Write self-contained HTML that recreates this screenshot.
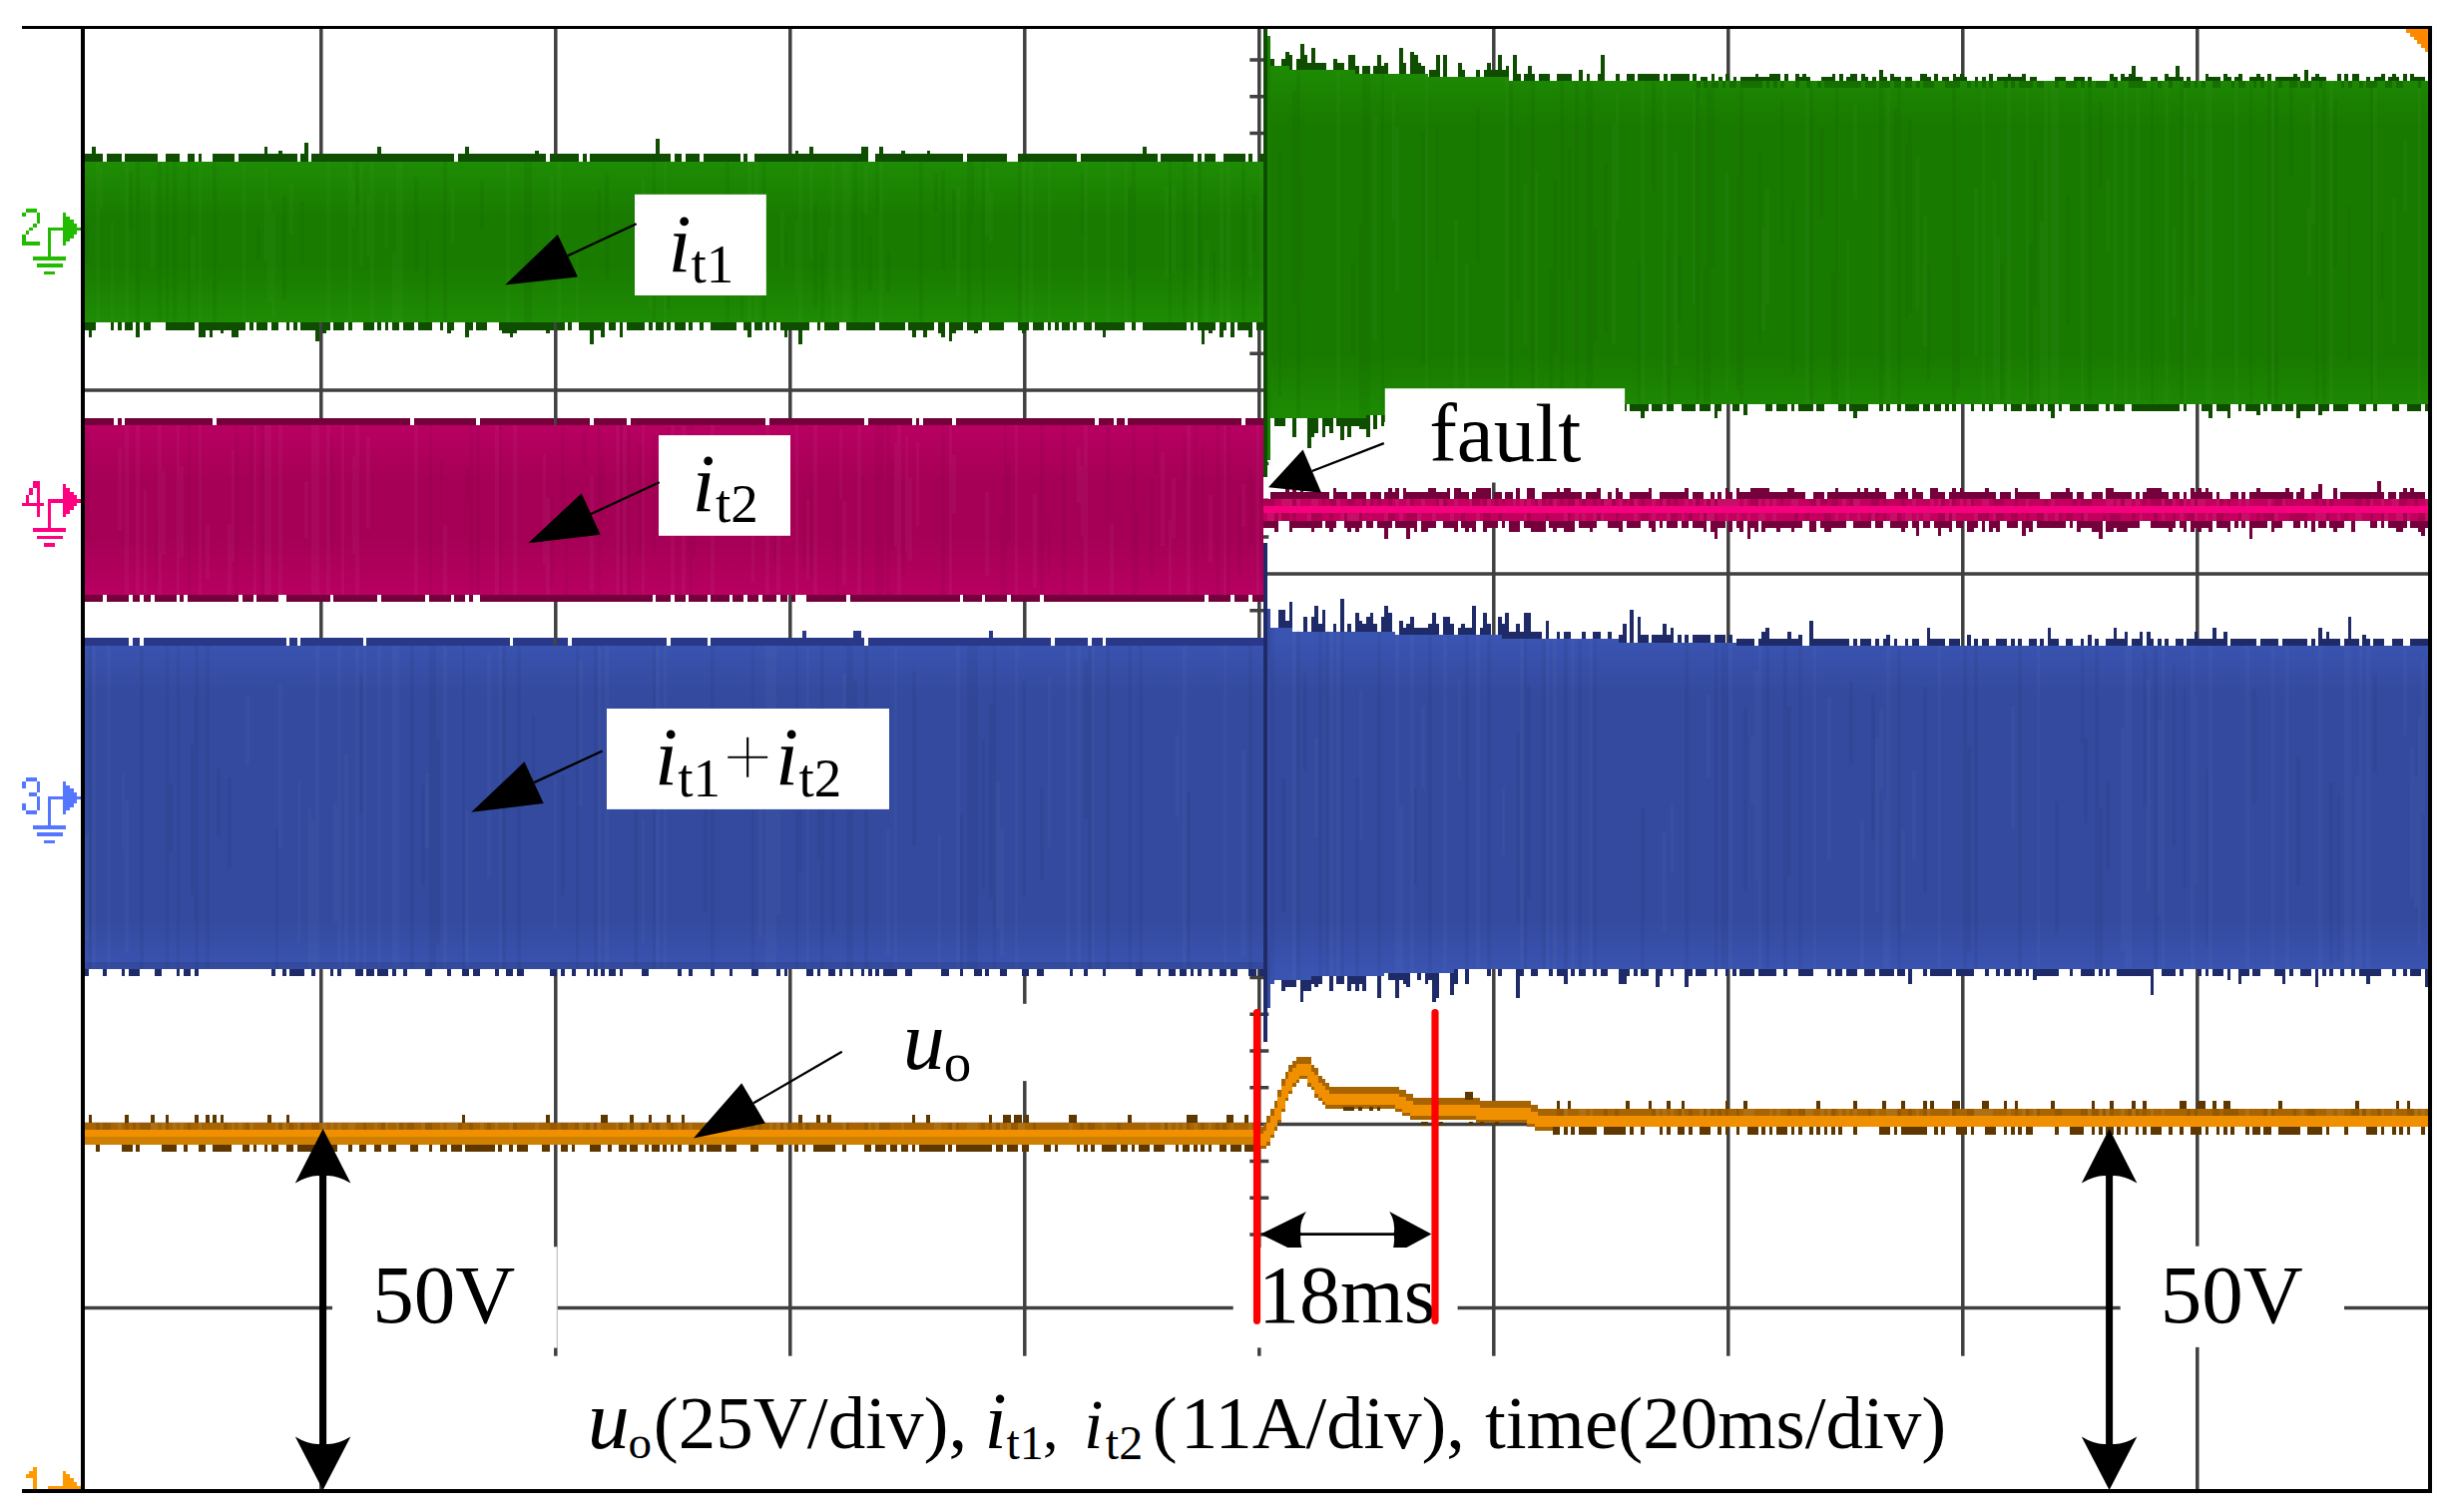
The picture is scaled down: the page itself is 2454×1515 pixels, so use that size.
<!DOCTYPE html>
<html lang="en"><head><meta charset="utf-8"><title>Fault transient waveforms</title>
<style>html,body{margin:0;padding:0;background:#fff}svg{display:block}text{font-family:"Liberation Serif","Times New Roman",serif;fill:#000}.i{font-style:italic}</style></head><body>
<svg width="2454" height="1515" viewBox="0 0 2454 1515">
<rect width="2454" height="1515" fill="#fff"/>
<defs>
<linearGradient id="gG1" gradientUnits="userSpaceOnUse" x1="0" x2="0" y1="161.5" y2="323.3"><stop offset="0" stop-color="#1e8c04"/><stop offset="0.340" stop-color="#197c00"/><stop offset="0.660" stop-color="#197c00"/><stop offset="1" stop-color="#1e8c04"/></linearGradient>
<linearGradient id="gG2" gradientUnits="userSpaceOnUse" x1="0" x2="0" y1="70" y2="412"><stop offset="0" stop-color="#1d8a03"/><stop offset="0.161" stop-color="#197a00"/><stop offset="0.839" stop-color="#197a00"/><stop offset="1" stop-color="#1d8a03"/></linearGradient>
<linearGradient id="gM1" gradientUnits="userSpaceOnUse" x1="0" x2="0" y1="426" y2="595.5"><stop offset="0" stop-color="#b80062"/><stop offset="0.324" stop-color="#a60056"/><stop offset="0.676" stop-color="#a60056"/><stop offset="1" stop-color="#b80062"/></linearGradient>
<linearGradient id="gB1" gradientUnits="userSpaceOnUse" x1="0" x2="0" y1="640" y2="975"><stop offset="0" stop-color="#3a54b2"/><stop offset="0.164" stop-color="#344a9e"/><stop offset="0.836" stop-color="#344a9e"/><stop offset="1" stop-color="#3a54b2"/></linearGradient>
</defs>
<path stroke="#404040" stroke-width="3.5" fill="none" d="M321.8 29V1492M556.8 29V1492M791.8 29V1492M1026.8 29V1492M1261.8 29V1492M1496.8 29V1492M1731.8 29V1492M1966.8 29V1492M2201.8 29V1492M85 207.1H2434M85 391H2434M85 574.9H2434M85 758.8H2434M85 942.7H2434M85 1126.6H2434M85 1310.5H2434"/>
<path stroke="#404040" stroke-width="3.5" fill="none" d="M1252.3 60H1271.3M1252.3 96.8H1271.3M1252.3 133.5H1271.3M1252.3 170.3H1271.3M1252.3 243.9H1271.3M1252.3 280.7H1271.3M1252.3 317.4H1271.3M1252.3 354.2H1271.3M1252.3 427.8H1271.3M1252.3 464.6H1271.3M1252.3 501.3H1271.3M1252.3 538.1H1271.3M1252.3 611.7H1271.3M1252.3 648.5H1271.3M1252.3 685.2H1271.3M1252.3 722H1271.3M1252.3 795.6H1271.3M1252.3 832.4H1271.3M1252.3 869.1H1271.3M1252.3 905.9H1271.3M1252.3 979.5H1271.3M1252.3 1016.3H1271.3M1252.3 1053H1271.3M1252.3 1089.8H1271.3M1252.3 1163.4H1271.3M1252.3 1200.2H1271.3M1252.3 1236.9H1271.3M1252.3 1273.7H1271.3M1252.3 1347.3H1271.3M1252.3 1384.1H1271.3M1252.3 1420.8H1271.3M1252.3 1457.6H1271.3"/>
<g shape-rendering="crispEdges">
<rect x="85" y="161.5" width="1181" height="161.8" fill="url(#gG1)"/>
<path fill="url(#gG2)" d="M1266 66.2V66.2H1269.7H1273.3H1277H1280.7H1284.4H1288H1291.7V69.9H1295.4H1299H1302.7H1306.4H1310.1H1313.7H1317.4H1321.1H1324.7H1328.4H1332.1H1335.8H1339.4H1343.1H1346.8H1350.4H1354.1H1357.8V73.6H1361.5H1365.1H1368.8H1372.5H1376.1H1379.8H1383.5H1387.2H1390.8H1394.5H1398.2H1401.8H1405.5H1409.2H1412.9H1416.5H1420.2H1423.9H1427.5H1431.2V77.2H1434.9H1438.6H1442.2H1445.9H1449.6H1453.2H1456.9H1460.6H1464.3H1467.9H1471.6H1475.3H1478.9H1482.6H1486.3H1490H1493.6H1497.3H1501H1504.6H1508.3H1512V80.9H1515.7H1519.3H1523H1526.7H1530.3H1534H1537.7H1541.4H1545H1548.7H1552.4H1556H1559.7H1563.4H1567.1H1570.7H1574.4H1578.1H1581.7H1585.4H1589.1H1592.8H1596.4H1600.1H1603.8H1607.4H1611.1H1614.8H1618.5H1622.1H1625.8H1629.5H1633.1H1636.8H1640.5H1644.2H1647.8H1651.5H1655.2H1658.8H1662.5H1666.2H1669.9H1673.5H1677.2H1680.9H1684.5H1688.2H1691.9H1695.6H1699.2H1702.9H1706.6H1710.2H1713.9H1717.6H1721.3H1724.9H1728.6H1732.3H1735.9H1739.6H1743.3H1747H1750.6H1754.3H1758H1761.6H1765.3H1769H1772.7H1776.3H1780H1783.7H1787.3H1791H1794.7H1798.4H1802H1805.7H1809.4H1813H1816.7H1820.4H1824.1H1827.7H1831.4H1835.1H1838.7H1842.4H1846.1H1849.8H1853.4H1857.1H1860.8H1864.4H1868.1H1871.8H1875.4H1879.1H1882.8H1886.5H1890.1H1893.8H1897.5H1901.1H1904.8H1908.5H1912.2H1915.8H1919.5H1923.2H1926.8H1930.5H1934.2H1937.9H1941.5H1945.2H1948.9H1952.5H1956.2H1959.9H1963.6H1967.2H1970.9H1974.6H1978.2H1981.9H1985.6H1989.3H1992.9H1996.6H2000.3H2003.9H2007.6H2011.3H2015H2018.6H2022.3H2026H2029.6H2033.3H2037H2040.7H2044.3H2048H2051.7H2055.3H2059H2062.7H2066.4H2070H2073.7H2077.4H2081H2084.7H2088.4H2092.1H2095.7H2099.4H2103.1H2106.7H2110.4H2114.1H2117.8H2121.4H2125.1H2128.8H2132.4H2136.1H2139.8H2143.5H2147.1H2150.8H2154.5H2158.1H2161.8H2165.5H2169.2H2172.8H2176.5H2180.2H2183.8H2187.5H2191.2H2194.9H2198.5H2202.2H2205.9H2209.5H2213.2H2216.9H2220.6H2224.2H2227.9H2231.6H2235.2H2238.9H2242.6H2246.3H2249.9H2253.6H2257.3H2260.9H2264.6H2268.3H2272H2275.6H2279.3H2283H2286.6H2290.3H2294H2297.7H2301.3H2305H2308.7H2312.3H2316H2319.7H2323.4H2327H2330.7H2334.4H2338H2341.7H2345.4H2349.1H2352.7H2356.4H2360.1H2363.7H2367.4H2371.1H2374.8H2378.4H2382.1H2385.8H2389.4H2393.1H2396.8H2400.5H2404.1H2407.8H2411.5H2415.1H2418.8H2422.5H2426.2H2429.8H2433.5V404.6H2429.8H2426.2H2422.5H2418.8H2415.1H2411.5H2407.8H2404.1H2400.5H2396.8H2393.1H2389.4H2385.8H2382.1H2378.4H2374.8H2371.1H2367.4H2363.7H2360.1H2356.4H2352.7H2349.1H2345.4H2341.7H2338H2334.4H2330.7H2327H2323.4H2319.7H2316H2312.3H2308.7H2305H2301.3H2297.7H2294H2290.3H2286.6H2283H2279.3H2275.6H2272H2268.3H2264.6H2260.9H2257.3H2253.6H2249.9H2246.3H2242.6H2238.9H2235.2H2231.6H2227.9H2224.2H2220.6H2216.9H2213.2H2209.5H2205.9H2202.2H2198.5H2194.9H2191.2H2187.5H2183.8H2180.2H2176.5H2172.8H2169.2H2165.5H2161.8H2158.1H2154.5H2150.8H2147.1H2143.5H2139.8H2136.1H2132.4H2128.8H2125.1H2121.4H2117.8H2114.1H2110.4H2106.7H2103.1H2099.4H2095.7H2092.1H2088.4H2084.7H2081H2077.4H2073.7H2070H2066.4H2062.7H2059H2055.3H2051.7H2048H2044.3H2040.7H2037H2033.3H2029.6H2026H2022.3H2018.6H2015H2011.3H2007.6H2003.9H2000.3H1996.6H1992.9H1989.3H1985.6H1981.9H1978.2H1974.6H1970.9H1967.2H1963.6H1959.9H1956.2H1952.5H1948.9H1945.2H1941.5H1937.9H1934.2H1930.5H1926.8H1923.2H1919.5H1915.8H1912.2H1908.5H1904.8H1901.1H1897.5H1893.8H1890.1H1886.5H1882.8H1879.1H1875.4H1871.8H1868.1H1864.4H1860.8H1857.1H1853.4H1849.8H1846.1H1842.4H1838.7H1835.1H1831.4H1827.7H1824.1H1820.4H1816.7H1813H1809.4H1805.7H1802H1798.4H1794.7H1791H1787.3H1783.7H1780H1776.3H1772.7H1769H1765.3H1761.6H1758H1754.3H1750.6H1747H1743.3H1739.6H1735.9H1732.3H1728.6H1724.9H1721.3H1717.6H1713.9H1710.2H1706.6H1702.9H1699.2H1695.6H1691.9H1688.2H1684.5H1680.9H1677.2H1673.5H1669.9H1666.2H1662.5H1658.8H1655.2H1651.5H1647.8H1644.2H1640.5H1636.8H1633.1H1629.5H1625.8H1622.1H1618.5H1614.8H1611.1H1607.4H1603.8H1600.1H1596.4H1592.8H1589.1H1585.4V408.3H1581.7H1578.1H1574.4H1570.7H1567.1H1563.4H1559.7H1556H1552.4H1548.7H1545H1541.4H1537.7H1534H1530.3H1526.7H1523H1519.3H1515.7V411.9H1512H1508.3H1504.6H1501H1497.3H1493.6H1490H1486.3H1482.6H1478.9H1475.3H1471.6H1467.9H1464.3H1460.6H1456.9H1453.2H1449.6V415.6H1445.9H1442.2H1438.6H1434.9H1431.2H1427.5H1423.9H1420.2H1416.5H1412.9H1409.2H1405.5H1401.8H1398.2H1394.5H1390.8H1387.2H1383.5H1379.8H1376.1H1372.5H1368.8V419.3H1365.1H1361.5H1357.8H1354.1H1350.4H1346.8H1343.1H1339.4H1335.8H1332.1H1328.4H1324.7H1321.1H1317.4H1313.7H1310.1H1306.4H1302.7H1299H1295.4H1291.7H1288H1284.4H1280.7H1277H1273.3H1269.7H1266z"/>
<path fill="#fff" opacity="0.025" d="M96 161.5H99.7V323.3H96zM99.7 168.3H103.3V208H99.7zM110.7 222.4H114.3V323.3H110.7zM125.3 161.5H129V323.3H125.3zM151 181.5H154.7V268.9H151zM191.4 235H195V279.7H191.4zM198.7 161.5H202.4V323.3H198.7zM242.7 161.5H246.4V323.3H242.7zM264.7 167.2H268.4V261.7H264.7zM268.4 199.5H272.1V302.3H268.4zM272.1 214.8H275.7V318.7H272.1zM290.4 184H294.1V235.3H290.4zM327.1 161.5H330.7V323.3H327.1zM349.1 161.5H352.7V323.3H349.1zM352.7 181.8H356.4V227.3H352.7zM360.1 164H363.7V267.1H360.1zM367.4 195.2H371.1V257H367.4zM371.1 161.5H374.7V323.3H371.1zM385.8 194.8H389.4V248.5H385.8zM393.1 253.8H396.8V323.3H393.1zM396.8 161.5H404.1V323.3H396.8zM451.8 188.6H455.4V242H451.8zM506.8 161.5H510.5V323.3H506.8zM550.8 176.2H554.5V281.7H550.8zM558.1 161.5H561.8V323.3H558.1zM576.5 255.8H580.1V323.3H576.5zM642.5 179.3H646.2V212H642.5zM649.8 231.9H653.5V309.3H649.8zM664.5 161.5H668.2V323.3H664.5zM737.9 204.4H741.5V242.6H737.9zM748.9 161.5H752.5V323.3H748.9zM756.2 161.5H759.9V323.3H756.2zM781.9 211.6H785.5V271.3H781.9zM796.5 222.1H800.2V295.9H796.5zM800.2 161.5H803.9V323.3H800.2zM811.2 165.3H814.9V260.7H811.2zM829.5 228.3H833.2V295.1H829.5zM833.2 161.5H836.9V323.3H833.2zM844.2 161.5H851.5V323.3H844.2zM866.2 166.4H869.9V215.1H866.2zM880.9 161.5H884.6V323.3H880.9zM957.9 187.1H961.6V297.2H957.9zM987.3 170.2H990.9V234.9H987.3zM990.9 191H994.6V242.2H990.9zM1023.9 161.5H1027.6V323.3H1023.9zM1031.3 161.5H1034.9V323.3H1031.3zM1049.6 161.5H1053.3V323.3H1049.6zM1086.3 161.5H1090V323.3H1086.3zM1108.3 161.5H1112V323.3H1108.3zM1126.6 161.5H1130.3V323.3H1126.6zM1167 186.2H1170.6V278.6H1167zM1174.3 187.6H1178V274.3H1174.3zM1196.3 161.5H1200V323.3H1196.3zM1207.3 241.1H1211V323.3H1207.3zM1222 161.5H1225.7V323.3H1222zM1229.3 161.5H1233V323.3H1229.3zM1251.3 209.2H1255V278.1H1251.3zM1262.3 161.5H1266V323.3H1262.3z"/>
<path fill="#000" opacity="0.04" d="M85 224.7H88.7V262.9H85zM129 172.9H132.7V230.3H129zM136.3 161.5H140V323.3H136.3zM158.4 161.5H162V323.3H158.4zM165.7 161.5H169.4V323.3H165.7zM173 161.5H176.7V323.3H173zM187.7 161.5H191.4V323.3H187.7zM213.4 161.5H217V323.3H213.4zM257.4 226.4H261V260.6H257.4zM283.1 196.3H286.7V300.2H283.1zM301.4 202.2H305.1V264.4H301.4zM356.4 161.5H360.1V206.1H356.4zM415.1 177.7H418.8V272.5H415.1zM426.1 240.3H429.8V323.3H426.1zM444.4 161.5H448.1V323.3H444.4zM481.1 180.6H484.8V229.5H481.1zM525.1 161.5H532.5V323.3H525.1zM598.5 189.9H602.1V241.8H598.5zM605.8 174.2H609.5V280.2H605.8zM653.5 161.5H657.2V323.3H653.5zM668.2 236.5H671.8V309.9H668.2zM726.8 161.5H730.5V323.3H726.8zM741.5 226.5H745.2V322.3H741.5zM763.5 161.5H767.2V323.3H763.5zM785.5 231.6H789.2V265.5H785.5zM814.9 202.5H818.5V308.6H814.9zM822.2 250.7H825.9V323.3H822.2zM855.2 161.5H858.9V323.3H855.2zM862.6 212.7H866.2V264.3H862.6zM869.9 235.2H873.6V291H869.9zM877.2 163.3H880.9V215.9H877.2zM888.2 252.2H891.9V293.2H888.2zM921.2 161.5H924.9V323.3H921.2zM935.9 174.1H939.6V212.2H935.9zM943.2 169.7H946.9V270.1H943.2zM954.2 190H957.9V259.5H954.2zM968.9 161.5H972.6V323.3H968.9zM972.6 161.6H976.3V224.8H972.6zM983.6 161.5H987.3V323.3H983.6zM1020.3 161.5H1023.9V323.3H1020.3zM1082.6 174.4H1086.3V236H1082.6zM1130.3 187.3H1134V278.6H1130.3zM1134 161.5H1137.6V323.3H1134zM1170.6 161.5H1174.3V323.3H1170.6zM1185.3 161.5H1189V323.3H1185.3zM1200 161.5H1203.6V323.3H1200zM1214.7 253.3H1218.3V302.7H1214.7zM1244 161.5H1247.7V323.3H1244zM1255 194.9H1258.7V252.8H1255z"/>
<path fill="#fff" opacity="0.025" d="M1269.7 66.5H1273.3V420.7H1269.7zM1339.4 70.8H1343.1V418.1H1339.4zM1376.1 115.8H1379.8V340.7H1376.1zM1394.5 92.5H1398.2V219.7H1394.5zM1398.2 127.1H1401.8V293.1H1398.2zM1427.5 75.3H1431.2V414.8H1427.5zM1456.9 219.9H1460.6V413.2H1456.9zM1467.9 263.7H1471.6V412.6H1467.9zM1508.3 78.9H1512V410.4H1508.3zM1526.7 183.5H1530.3V345.5H1526.7zM1537.7 171.1H1541.4V394.3H1537.7zM1614.8 122.3H1618.5V344.7H1614.8zM1618.5 92.7H1622.1V221H1618.5zM1644.2 81H1647.8V404H1644.2zM1666.2 81H1669.9V404H1666.2zM1677.2 153.2H1680.9V366.3H1677.2zM1695.6 93.1H1699.2V306.3H1695.6zM1728.6 173.1H1732.3V392.2H1728.6zM1765.3 226.9H1769V331.4H1765.3zM1769 188.1H1772.7V305.3H1769zM1809.4 81H1813V404H1809.4zM1849.8 239.7H1853.4V404H1849.8zM1857.1 104.1H1860.8V199.3H1857.1zM1890.1 81H1893.8V404H1890.1zM1919.5 157.6H1923.2V311.1H1919.5zM1926.8 215.8H1930.5V346.6H1926.8zM1978.2 187.9H1981.9V356H1978.2zM1985.6 81H1989.3V404H1985.6zM1996.6 182H2000.3V396.1H1996.6zM2000.3 237H2003.9V404H2000.3zM2011.3 81H2015V404H2011.3zM2029.6 81H2033.3V404H2029.6zM2044.3 221.5H2048V404H2044.3zM2048 81H2051.7V404H2048zM2055.3 81H2062.7V404H2055.3zM2084.7 81H2088.4V404H2084.7zM2110.4 179.9H2114.1V251.1H2110.4zM2117.8 81H2121.4V404H2117.8zM2128.8 81H2132.4V404H2128.8zM2139.8 81H2143.5V404H2139.8zM2169.2 81H2172.8V404H2169.2zM2176.5 227.5H2180.2V317.8H2176.5zM2187.5 81H2191.2V404H2187.5zM2198.5 112.2H2202.2V328.1H2198.5zM2209.5 81H2216.9V404H2209.5zM2238.9 81H2242.6V404H2238.9zM2275.6 81H2279.3V404H2275.6zM2312.3 207.6H2316V275.8H2312.3zM2316 101.6H2319.7V223.9H2316zM2334.4 81H2338V404H2334.4zM2378.4 81H2382.1V404H2378.4zM2396.8 198.8H2400.5V345.3H2396.8zM2407.8 139.2H2411.5V211.6H2407.8zM2422.5 81H2426.2V404H2422.5z"/>
<path fill="#000" opacity="0.04" d="M1280.7 150.5H1284.4V397.2H1280.7zM1295.4 89.8H1299V306.3H1295.4zM1299 68.6H1302.7V419H1299zM1302.7 176.1H1306.4V279.4H1302.7zM1354.1 264.1H1357.8V355.4H1354.1zM1361.5 225.2H1365.1V417.6H1361.5zM1365.1 72.2H1368.8V417.5H1365.1zM1368.8 72.4H1372.5V417.4H1368.8zM1383.5 73.2H1387.2V417.1H1383.5zM1423.9 131.7H1427.5V364.2H1423.9zM1438.6 126.3H1442.2V261.6H1438.6zM1478.9 108.6H1482.6V262.8H1478.9zM1512 79.1H1515.7V410.2H1512zM1519.3 129.4H1523V300.5H1519.3zM1534 80.1H1537.7V409H1534zM1552.4 269.5H1556V408H1552.4zM1556 178.7H1559.7V354.3H1556zM1563.4 81H1567.1V407.4H1563.4zM1570.7 147.1H1574.4V280.9H1570.7zM1578.1 81H1581.7V406.6H1578.1zM1589.1 81H1592.8V406H1589.1zM1592.8 81H1596.4V405.8H1592.8zM1596.4 229.1H1600.1V341.9H1596.4zM1607.4 162.1H1611.1V334.7H1607.4zM1640.5 262.4H1644.2V404H1640.5zM1655.2 81.6H1658.8V191.3H1655.2zM1669.9 240.2H1673.5V404H1669.9zM1680.9 254.8H1684.5V324.3H1680.9zM1699.2 81H1702.9V404H1699.2zM1706.6 266.6H1710.2V404H1706.6zM1710.2 81H1713.9V404H1710.2zM1713.9 81.7H1717.6V268.4H1713.9zM1739.6 176.6H1743.3V391.1H1739.6zM1743.3 81H1747V404H1743.3zM1761.6 151.1H1765.3V342.1H1761.6zM1783.7 99.7H1787.3V244.8H1783.7zM1794.7 201.2H1798.4V374.7H1794.7zM1813 81H1816.7V404H1813zM1824.1 128.5H1827.7V217.9H1824.1zM1835.1 273.3H1838.7V404H1835.1zM1838.7 81H1842.4V404H1838.7zM1882.8 81H1886.5V404H1882.8zM1897.5 108.4H1901.1V205.9H1897.5zM1901.1 81H1904.8V404H1901.1zM1908.5 144.4H1912.2V318.6H1908.5zM1912.2 120.4H1915.8V313.5H1912.2zM1930.5 265.7H1934.2V380.8H1930.5zM1956.2 81H1959.9V404H1956.2zM1959.9 255.7H1963.6V388.8H1959.9zM2003.9 263.8H2007.6V404H2003.9zM2033.3 245H2037V404H2033.3zM2037 158.5H2040.7V306.7H2037zM2070 193.9H2073.7V327.3H2070zM2092.1 81H2095.7V404H2092.1zM2103.1 101.8H2106.7V187.1H2103.1zM2154.5 81H2158.1V404H2154.5zM2183.8 81H2187.5V404H2183.8zM2194.9 179.1H2198.5V295.2H2194.9zM2253.6 81H2257.3V404H2253.6zM2272 81H2275.6V404H2272zM2279.3 81H2283V404H2279.3zM2294 87.5H2297.7V176.3H2294zM2319.7 81H2323.4V404H2319.7zM2327 81H2330.7V404H2327zM2338 99.6H2341.7V267.2H2338zM2352.7 206H2356.4V361.4H2352.7zM2374.8 81H2378.4V404H2374.8zM2385.8 231.9H2389.4V298.5H2385.8z"/>
<path fill="#0f4d00"  d="M85 154.1H92.3V161.5H85zM92.3 146.8H96V161.5H92.3zM96 154.1H103.3V161.5H96zM107 154.1H121.7V161.5H107zM125.3 154.1H158.4V161.5H125.3zM165.7 154.1H180.4V161.5H165.7zM187.7 154.1H195V161.5H187.7zM198.7 154.1H202.4V161.5H198.7zM213.4 154.1H235.4V161.5H213.4zM239 154.1H264.7V161.5H239zM264.7 146.8H268.4V161.5H264.7zM268.4 154.1H279.4V161.5H268.4zM279.4 150.5H283.1V161.5H279.4zM283.1 154.1H297.7V161.5H283.1zM301.4 154.1H305.1V161.5H301.4zM305.1 143.1H308.7V161.5H305.1zM312.4 154.1H378.4V161.5H312.4zM378.4 146.8H382.1V161.5H378.4zM382.1 154.1H455.4V161.5H382.1zM459.1 154.1H466.4V161.5H459.1zM466.4 146.8H470.1V161.5H466.4zM470.1 154.1H536.1V161.5H470.1zM536.1 150.5H539.8V161.5H536.1zM539.8 154.1H547.1V161.5H539.8zM550.8 154.1H580.1V161.5H550.8zM583.8 154.1H587.5V161.5H583.8zM591.1 154.1H657.2V161.5H591.1zM657.2 139.4H660.8V161.5H657.2zM660.8 154.1H671.8V161.5H660.8zM675.5 154.1H682.8V161.5H675.5zM686.5 154.1H701.2V161.5H686.5zM704.8 154.1H741.5V161.5H704.8zM745.2 154.1H748.9V161.5H745.2zM756.2 154.1H796.5V161.5H756.2zM796.5 150.5H800.2V161.5H796.5zM800.2 154.1H811.2V161.5H800.2zM811.2 146.8H814.9V161.5H811.2zM814.9 154.1H862.6V161.5H814.9zM862.6 146.8H869.9V161.5H862.6zM877.2 154.1H880.9V161.5H877.2zM880.9 146.8H884.6V161.5H880.9zM884.6 154.1H902.9V161.5H884.6zM902.9 150.5H906.6V161.5H902.9zM906.6 154.1H928.6V161.5H906.6zM928.6 150.5H932.2V161.5H928.6zM932.2 154.1H965.2V161.5H932.2zM968.9 154.1H1009.3V161.5H968.9zM1020.3 154.1H1078.9V161.5H1020.3zM1082.6 154.1H1145V161.5H1082.6zM1145 146.8H1148.6V161.5H1145zM1148.6 154.1H1159.6V161.5H1148.6zM1163.3 154.1H1196.3V161.5H1163.3zM1200 154.1H1203.6V161.5H1200zM1207.3 154.1H1218.3V161.5H1207.3zM1225.7 154.1H1247.7V161.5H1225.7zM1251.3 154.1H1255V161.5H1251.3zM1262.3 154.1H1266V161.5H1262.3z"/>
<path fill="#0f4d00"  d="M85 323.3H88.7V330.7H85zM88.7 323.3H92.3V338H88.7zM92.3 323.3H96V330.7H92.3zM110.7 323.3H114.3V330.7H110.7zM118 323.3H121.7V330.7H118zM125.3 323.3H132.7V330.7H125.3zM136.3 323.3H140V338H136.3zM143.7 323.3H151V330.7H143.7zM165.7 323.3H195V330.7H165.7zM198.7 323.3H206V338H198.7zM206 323.3H209.7V330.7H206zM209.7 323.3H213.4V338H209.7zM213.4 323.3H220.7V330.7H213.4zM220.7 323.3H224.4V334.3H220.7zM224.4 323.3H231.7V330.7H224.4zM231.7 323.3H239V338H231.7zM239 323.3H246.4V330.7H239zM250 323.3H253.7V330.7H250zM257.4 323.3H268.4V330.7H257.4zM272.1 323.3H279.4V330.7H272.1zM286.7 323.3H290.4V330.7H286.7zM294.1 323.3H297.7V330.7H294.1zM301.4 323.3H316.1V330.7H301.4zM316.1 323.3H319.7V341.7H316.1zM323.4 323.3H327.1V334.3H323.4zM327.1 323.3H330.7V330.7H327.1zM334.4 323.3H345.4V330.7H334.4zM349.1 323.3H352.7V330.7H349.1zM363.7 323.3H374.7V330.7H363.7zM378.4 323.3H382.1V330.7H378.4zM385.8 323.3H389.4V330.7H385.8zM393.1 323.3H400.4V330.7H393.1zM404.1 323.3H415.1V330.7H404.1zM418.8 323.3H433.4V330.7H418.8zM440.8 323.3H444.4V330.7H440.8zM448.1 323.3H451.8V334.3H448.1zM451.8 323.3H455.4V330.7H451.8zM466.4 323.3H470.1V338H466.4zM470.1 323.3H473.8V330.7H470.1zM477.4 323.3H488.4V330.7H477.4zM499.5 323.3H503.1V330.7H499.5zM503.1 323.3H510.5V334.3H503.1zM510.5 323.3H514.1V338H510.5zM514.1 323.3H517.8V334.3H514.1zM517.8 323.3H547.1V330.7H517.8zM547.1 323.3H550.8V334.3H547.1zM550.8 323.3H554.5V330.7H550.8zM558.1 323.3H565.5V330.7H558.1zM569.1 323.3H572.8V330.7H569.1zM580.1 323.3H591.1V330.7H580.1zM591.1 323.3H594.8V345.4H591.1zM594.8 323.3H602.1V330.7H594.8zM602.1 323.3H605.8V338H602.1zM609.5 323.3H616.8V330.7H609.5zM620.5 323.3H624.2V338H620.5zM627.8 323.3H646.2V330.7H627.8zM649.8 323.3H653.5V330.7H649.8zM657.2 323.3H664.5V330.7H657.2zM668.2 323.3H671.8V330.7H668.2zM675.5 323.3H686.5V330.7H675.5zM690.2 323.3H693.8V330.7H690.2zM701.2 323.3H704.8V330.7H701.2zM712.2 323.3H737.9V330.7H712.2zM745.2 323.3H748.9V330.7H745.2zM748.9 323.3H752.5V338H748.9zM756.2 323.3H763.5V330.7H756.2zM767.2 323.3H770.9V330.7H767.2zM774.5 323.3H778.2V330.7H774.5zM781.9 323.3H785.5V330.7H781.9zM785.5 323.3H789.2V338H785.5zM789.2 323.3H800.2V330.7H789.2zM800.2 323.3H803.9V345.4H800.2zM803.9 323.3H811.2V330.7H803.9zM818.5 323.3H822.2V330.7H818.5zM825.9 323.3H840.5V330.7H825.9zM847.9 323.3H877.2V330.7H847.9zM880.9 323.3H906.6V330.7H880.9zM910.2 323.3H913.9V330.7H910.2zM913.9 323.3H917.6V338H913.9zM917.6 323.3H924.9V330.7H917.6zM924.9 323.3H928.6V338H924.9zM928.6 323.3H935.9V330.7H928.6zM939.6 323.3H943.2V334.3H939.6zM943.2 323.3H946.9V338H943.2zM950.6 323.3H954.2V341.7H950.6zM954.2 323.3H957.9V334.3H954.2zM957.9 323.3H965.2V330.7H957.9zM968.9 323.3H976.3V330.7H968.9zM976.3 323.3H979.9V334.3H976.3zM979.9 323.3H983.6V330.7H979.9zM990.9 323.3H1005.6V330.7H990.9zM1020.3 323.3H1023.9V330.7H1020.3zM1023.9 323.3H1027.6V334.3H1023.9zM1027.6 323.3H1031.3V330.7H1027.6zM1034.9 323.3H1045.9V330.7H1034.9zM1049.6 323.3H1053.3V330.7H1049.6zM1056.9 323.3H1060.6V330.7H1056.9zM1064.3 323.3H1071.6V330.7H1064.3zM1075.3 323.3H1078.9V330.7H1075.3zM1086.3 323.3H1093.6V330.7H1086.3zM1097.3 323.3H1104.6V330.7H1097.3zM1104.6 323.3H1108.3V338H1104.6zM1108.3 323.3H1126.6V330.7H1108.3zM1134 323.3H1137.6V330.7H1134zM1145 323.3H1189V330.7H1145zM1192.6 323.3H1196.3V330.7H1192.6zM1200 323.3H1203.6V330.7H1200zM1203.6 323.3H1207.3V345.4H1203.6zM1207.3 323.3H1211V330.7H1207.3zM1211 323.3H1214.7V334.3H1211zM1214.7 323.3H1218.3V330.7H1214.7zM1222 323.3H1225.7V338H1222zM1225.7 323.3H1229.3V330.7H1225.7zM1233 323.3H1236.7V338H1233zM1240.3 323.3H1251.3V330.7H1240.3zM1251.3 323.3H1255V338H1251.3zM1258.7 323.3H1266V330.7H1258.7z"/>
<path fill="#0f4d00"  d="M1269.7 51.5H1273.4V66.2H1269.7zM1273.4 58.8H1277V66.2H1273.4zM1284.4 58.8H1288.1V66.2H1284.4zM1288.1 51.5H1291.7V66.2H1288.1zM1291.7 55.2H1295.4V69.9H1291.7zM1299.1 58.8H1302.8V69.9H1299.1zM1302.8 44.1H1306.5V69.9H1302.8zM1306.5 55.2H1310.1V69.9H1306.5zM1310.1 62.5H1313.8V69.9H1310.1zM1313.8 47.8H1317.5V69.9H1313.8zM1317.5 62.5H1328.5V69.9H1317.5zM1335.9 58.8H1339.6V69.9H1335.9zM1339.6 62.5H1346.9V69.9H1339.6zM1350.6 55.2H1357.9V69.9H1350.6zM1357.9 66.2H1361.6V73.6H1357.9zM1365.3 66.2H1372.7V73.6H1365.3zM1376.3 66.2H1380V73.6H1376.3zM1380 55.2H1383.7V73.6H1380zM1383.7 66.2H1387.4V73.6H1383.7zM1387.4 62.5H1391.1V73.6H1387.4zM1402.1 47.8H1405.8V73.6H1402.1zM1405.8 62.5H1409.4V73.6H1405.8zM1413.1 51.5H1416.8V73.6H1413.1zM1416.8 55.2H1420.5V73.6H1416.8zM1420.5 62.5H1424.2V73.6H1420.5zM1424.2 66.2H1427.8V73.6H1424.2zM1431.5 69.9H1438.9V77.2H1431.5zM1438.9 55.2H1442.5V77.2H1438.9zM1446.2 55.2H1449.9V77.2H1446.2zM1460.9 62.5H1464.6V77.2H1460.9zM1464.6 69.9H1468.3V77.2H1464.6zM1479.3 69.9H1483V77.2H1479.3zM1486.7 69.9H1490.4V77.2H1486.7zM1490.4 62.5H1494V77.2H1490.4zM1494 69.9H1501.4V77.2H1494zM1501.4 55.2H1505.1V77.2H1501.4zM1505.1 69.9H1508.7V77.2H1505.1zM1508.7 66.2H1512.4V77.2H1508.7zM1516.1 55.2H1519.8V80.9H1516.1zM1519.8 73.6H1523.5V80.9H1519.8zM1527.1 73.6H1530.8V80.9H1527.1zM1530.8 66.2H1534.5V80.9H1530.8zM1534.5 73.6H1538.2V80.9H1534.5zM1541.8 73.6H1552.9V80.9H1541.8zM1560.2 73.6H1574.9V80.9H1560.2zM1582.3 69.9H1586V80.9H1582.3zM1589.7 73.6H1593.3V80.9H1589.7zM1600.7 73.6H1604.4V80.9H1600.7zM1604.4 55.2H1608.1V80.9H1604.4zM1619.1 73.6H1622.8V80.9H1619.1zM1630.1 73.6H1637.5V80.9H1630.1zM1641.2 73.6H1663.2V80.9H1641.2zM1666.9 73.6H1670.6V80.9H1666.9zM1674.3 73.6H1692.6V80.9H1674.3zM1696.3 73.6H1700V80.9H1696.3z"/>
<path fill="#0f4d00"  d="M1703.7 77.2H1711V80.9H1703.7zM1714.7 73.6H1718.3V80.9H1714.7zM1722 77.2H1725.7V80.9H1722zM1729.3 73.6H1733V80.9H1729.3zM1736.7 77.2H1740.3V80.9H1736.7zM1744 77.2H1758.7V80.9H1744zM1758.7 73.6H1762.3V80.9H1758.7zM1762.3 77.2H1773.3V80.9H1762.3zM1773.3 73.6H1784.4V80.9H1773.3zM1788 73.6H1791.7V80.9H1788zM1799 73.6H1802.7V80.9H1799zM1802.7 77.2H1806.4V80.9H1802.7zM1806.4 73.6H1810V80.9H1806.4zM1810 77.2H1813.7V80.9H1810zM1824.7 77.2H1835.7V80.9H1824.7zM1835.7 73.6H1839.4V80.9H1835.7zM1843 73.6H1846.7V80.9H1843zM1850.4 77.2H1854V80.9H1850.4zM1854 73.6H1861.4V80.9H1854zM1865 73.6H1868.7V80.9H1865zM1868.7 77.2H1872.4V80.9H1868.7zM1876 77.2H1879.7V80.9H1876zM1883.4 69.9H1887V80.9H1883.4zM1887 77.2H1890.7V80.9H1887zM1894.4 73.6H1898V80.9H1894.4zM1898 77.2H1905.4V80.9H1898zM1909 77.2H1916.4V80.9H1909zM1923.7 73.6H1931.1V80.9H1923.7zM1931.1 77.2H1934.7V80.9H1931.1zM1938.4 73.6H1942.1V80.9H1938.4zM1945.7 77.2H1953.1V80.9H1945.7zM1956.7 73.6H1960.4V80.9H1956.7zM1960.4 77.2H1964.1V80.9H1960.4zM1964.1 73.6H1967.7V80.9H1964.1zM1967.7 77.2H1971.4V80.9H1967.7zM1978.7 77.2H1982.4V80.9H1978.7zM1986.1 77.2H1989.7V80.9H1986.1zM1993.4 73.6H1997.1V80.9H1993.4zM2000.7 77.2H2011.7V80.9H2000.7zM2011.7 73.6H2015.4V80.9H2011.7zM2015.4 77.2H2026.4V80.9H2015.4zM2026.4 73.6H2030.1V80.9H2026.4zM2033.7 77.2H2041.1V80.9H2033.7zM2059.4 77.2H2070.4V80.9H2059.4zM2077.8 77.2H2088.8V80.9H2077.8zM2092.4 77.2H2096.1V80.9H2092.4zM2114.4 73.6H2118.1V80.9H2114.4zM2118.1 77.2H2121.8V80.9H2118.1zM2125.4 73.6H2129.1V80.9H2125.4zM2129.1 77.2H2132.8V80.9H2129.1zM2132.8 73.6H2136.4V80.9H2132.8zM2136.4 66.2H2140.1V80.9H2136.4zM2140.1 77.2H2147.4V80.9H2140.1zM2154.8 77.2H2162.1V80.9H2154.8zM2169.4 73.6H2173.1V80.9H2169.4zM2173.1 77.2H2180.4V80.9H2173.1zM2180.4 66.2H2184.1V80.9H2180.4zM2184.1 77.2H2187.8V80.9H2184.1zM2191.4 77.2H2195.1V80.9H2191.4zM2209.8 73.6H2213.4V80.9H2209.8zM2213.4 77.2H2224.5V80.9H2213.4zM2228.1 73.6H2231.8V80.9H2228.1zM2231.8 77.2H2235.5V80.9H2231.8zM2239.1 77.2H2242.8V80.9H2239.1zM2242.8 73.6H2246.5V80.9H2242.8zM2253.8 77.2H2261.1V80.9H2253.8zM2261.1 73.6H2264.8V80.9H2261.1zM2264.8 77.2H2268.5V80.9H2264.8zM2272.1 73.6H2275.8V80.9H2272.1zM2279.5 77.2H2297.8V80.9H2279.5zM2297.8 73.6H2301.5V80.9H2297.8zM2301.5 77.2H2305.1V80.9H2301.5zM2308.8 69.9H2312.5V80.9H2308.8zM2316.1 77.2H2319.8V80.9H2316.1zM2319.8 73.6H2323.5V80.9H2319.8zM2323.5 77.2H2330.8V80.9H2323.5zM2341.8 73.6H2345.5V80.9H2341.8zM2349.1 73.6H2352.8V80.9H2349.1zM2356.5 73.6H2363.8V80.9H2356.5zM2371.2 77.2H2374.8V80.9H2371.2zM2378.5 77.2H2385.8V80.9H2378.5zM2385.8 73.6H2389.5V80.9H2385.8zM2393.2 77.2H2396.8V80.9H2393.2zM2396.8 73.6H2400.5V80.9H2396.8zM2400.5 77.2H2404.2V80.9H2400.5zM2407.8 73.6H2411.5V80.9H2407.8zM2415.2 73.6H2418.8V80.9H2415.2zM2418.8 77.2H2429.8V80.9H2418.8z"/>
<path fill="#157000"  d="M1700 80.9H1703.7V88.3H1700zM1707.3 80.9H1711V88.3H1707.3zM1714.7 80.9H1722V88.3H1714.7zM1725.7 80.9H1729.3V88.3H1725.7zM1733 80.9H1740.3V88.3H1733zM1744 80.9H1766V88.3H1744zM1769.7 80.9H1773.3V88.3H1769.7zM1777 80.9H1780.7V88.3H1777zM1784.4 80.9H1788V88.3H1784.4zM1799 80.9H1802.7V88.3H1799zM1810 80.9H1813.7V88.3H1810zM1821 80.9H1824.7V88.3H1821zM1828.4 80.9H1865V88.3H1828.4zM1868.7 80.9H1879.7V88.3H1868.7zM1883.4 80.9H1894.4V88.3H1883.4zM1898 80.9H1905.4V88.3H1898zM1909 80.9H1916.4V88.3H1909zM1920 80.9H1923.7V88.3H1920zM1927.4 80.9H1938.4V88.3H1927.4zM1949.4 80.9H1964.1V88.3H1949.4zM1971.4 80.9H1975.1V88.3H1971.4zM1978.7 80.9H1982.4V88.3H1978.7zM1986.1 80.9H1989.7V88.3H1986.1zM1993.4 80.9H1997.1V88.3H1993.4zM2008.1 80.9H2011.7V88.3H2008.1zM2015.4 80.9H2019.1V88.3H2015.4zM2022.7 80.9H2037.4V88.3H2022.7zM2041.1 80.9H2048.4V88.3H2041.1zM2059.4 80.9H2063.1V88.3H2059.4zM2070.4 80.9H2081.4V88.3H2070.4zM2085.1 80.9H2088.8V88.3H2085.1zM2092.4 80.9H2096.1V88.3H2092.4zM2099.8 80.9H2110.8V88.3H2099.8zM2118.1 80.9H2121.8V88.3H2118.1zM2132.8 80.9H2151.1V88.3H2132.8zM2162.1 80.9H2165.8V88.3H2162.1zM2173.1 80.9H2176.8V88.3H2173.1zM2187.8 80.9H2195.1V88.3H2187.8zM2198.8 80.9H2202.4V88.3H2198.8zM2206.1 80.9H2209.8V88.3H2206.1zM2217.1 80.9H2224.5V88.3H2217.1zM2235.5 80.9H2239.1V88.3H2235.5zM2242.8 80.9H2250.1V88.3H2242.8zM2257.5 80.9H2261.1V88.3H2257.5zM2264.8 80.9H2268.5V88.3H2264.8zM2283.1 80.9H2286.8V88.3H2283.1zM2294.1 80.9H2301.5V88.3H2294.1zM2305.1 80.9H2316.1V88.3H2305.1zM2323.5 80.9H2327.1V88.3H2323.5zM2345.5 80.9H2349.1V88.3H2345.5zM2352.8 80.9H2356.5V88.3H2352.8zM2363.8 80.9H2367.5V88.3H2363.8zM2371.2 80.9H2382.2V88.3H2371.2zM2389.5 80.9H2396.8V88.3H2389.5zM2400.5 80.9H2407.8V88.3H2400.5zM2422.5 80.9H2426.2V88.3H2422.5z"/>
<path fill="#0f4d00"  d="M1266 419.3H1269.7V426.6H1266zM1277 419.3H1288V426.6H1277zM1295.4 419.3H1299V437.7H1295.4zM1310.1 419.3H1313.7V448.7H1310.1zM1313.7 419.3H1317.4V437.7H1313.7zM1317.4 419.3H1321.1V434H1317.4zM1324.7 419.3H1328.4V437.7H1324.7zM1328.4 419.3H1332.1V426.6H1328.4zM1332.1 419.3H1335.8V434H1332.1zM1339.4 419.3H1343.1V426.6H1339.4zM1343.1 419.3H1346.8V441.4H1343.1zM1346.8 419.3H1350.4V426.6H1346.8zM1350.4 419.3H1354.1V437.7H1350.4zM1354.1 419.3H1361.5V426.6H1354.1zM1361.5 419.3H1368.8V430.3H1361.5zM1368.8 415.6H1372.5V437.7H1368.8zM1376.1 415.6H1379.8V430.3H1376.1zM1383.5 415.6H1387.2V426.6H1383.5zM1387.2 415.6H1390.8V423H1387.2zM1390.8 415.6H1394.5V434H1390.8zM1394.5 415.6H1398.2V423H1394.5zM1401.8 415.6H1405.5V434H1401.8zM1405.5 415.6H1409.2V423H1405.5zM1412.9 415.6H1416.5V423H1412.9zM1420.2 415.6H1423.9V430.3H1420.2zM1423.9 415.6H1427.5V423H1423.9zM1427.5 415.6H1431.2V426.6H1427.5zM1445.9 415.6H1449.6V426.6H1445.9zM1453.2 411.9H1456.9V419.3H1453.2zM1464.3 411.9H1467.9V423H1464.3zM1467.9 411.9H1471.6V419.3H1467.9zM1471.6 411.9H1475.3V423H1471.6zM1478.9 411.9H1486.3V419.3H1478.9zM1486.3 411.9H1490V423H1486.3zM1504.6 411.9H1508.3V419.3H1504.6zM1508.3 411.9H1512V441.4H1508.3zM1519.3 408.3H1526.7V415.6H1519.3zM1541.4 408.3H1545V423H1541.4zM1548.7 408.3H1552.4V415.6H1548.7zM1552.4 408.3H1556V434H1552.4zM1556 408.3H1559.7V426.6H1556zM1563.4 408.3H1570.7V415.6H1563.4zM1574.4 408.3H1578.1V415.6H1574.4zM1578.1 408.3H1581.7V419.3H1578.1zM1581.7 408.3H1585.4V415.6H1581.7zM1585.4 404.6H1600.1V411.9H1585.4zM1600.1 404.6H1603.8V419.3H1600.1zM1603.8 404.6H1618.5V411.9H1603.8zM1622.1 404.6H1629.5V411.9H1622.1zM1633.1 404.6H1644.2V411.9H1633.1zM1644.2 404.6H1647.8V419.3H1644.2zM1647.8 404.6H1651.5V411.9H1647.8zM1655.2 404.6H1666.2V411.9H1655.2zM1669.9 404.6H1677.2V411.9H1669.9zM1684.5 404.6H1699.2V411.9H1684.5zM1702.9 404.6H1713.9V411.9H1702.9zM1717.6 404.6H1721.3V419.3H1717.6zM1721.3 404.6H1724.9V411.9H1721.3zM1735.9 404.6H1743.3V411.9H1735.9zM1747 404.6H1750.6V415.6H1747zM1769 404.6H1776.3V411.9H1769zM1780 404.6H1791V411.9H1780zM1794.7 404.6H1798.4V411.9H1794.7zM1802 404.6H1816.7V411.9H1802zM1820.4 404.6H1827.7V411.9H1820.4zM1842.4 404.6H1849.8V411.9H1842.4zM1853.4 404.6H1857.1V411.9H1853.4zM1857.1 404.6H1860.8V419.3H1857.1zM1860.8 404.6H1871.8V411.9H1860.8zM1882.8 404.6H1886.5V411.9H1882.8zM1890.1 404.6H1893.8V411.9H1890.1zM1901.1 404.6H1904.8V411.9H1901.1zM1908.5 404.6H1923.2V411.9H1908.5zM1926.8 404.6H1934.2V411.9H1926.8zM1937.9 404.6H1945.2V411.9H1937.9zM1948.9 404.6H1952.5V411.9H1948.9zM1956.2 404.6H1959.9V411.9H1956.2zM1974.6 404.6H1978.2V411.9H1974.6zM1985.6 404.6H1989.3V411.9H1985.6zM1992.9 404.6H1996.6V411.9H1992.9zM2007.6 404.6H2011.3V411.9H2007.6zM2015 404.6H2026V411.9H2015zM2029.6 404.6H2040.7V411.9H2029.6zM2044.3 404.6H2048V411.9H2044.3zM2051.7 404.6H2055.3V411.9H2051.7zM2055.3 404.6H2059V419.3H2055.3zM2062.7 404.6H2066.4V411.9H2062.7zM2073.7 404.6H2084.7V411.9H2073.7zM2088.4 404.6H2103.1V411.9H2088.4zM2110.4 404.6H2114.1V411.9H2110.4zM2117.8 404.6H2128.8V411.9H2117.8zM2136.1 404.6H2183.8V411.9H2136.1zM2187.5 404.6H2191.2V411.9H2187.5zM2205.9 404.6H2213.2V411.9H2205.9zM2213.2 404.6H2216.9V419.3H2213.2zM2220.6 404.6H2231.6V411.9H2220.6zM2231.6 404.6H2235.2V419.3H2231.6zM2242.6 404.6H2246.3V411.9H2242.6zM2249.9 404.6H2260.9V411.9H2249.9zM2260.9 404.6H2264.6V415.6H2260.9zM2268.3 404.6H2272V411.9H2268.3zM2275.6 404.6H2286.6V411.9H2275.6zM2290.3 404.6H2297.7V411.9H2290.3zM2301.3 404.6H2305V419.3H2301.3zM2305 404.6H2319.7V411.9H2305zM2323.4 404.6H2327V415.6H2323.4zM2327 404.6H2334.4V411.9H2327zM2338 404.6H2352.7V411.9H2338zM2363.7 404.6H2371.1V411.9H2363.7zM2378.4 404.6H2382.1V411.9H2378.4zM2396.8 404.6H2404.1V411.9H2396.8zM2411.5 404.6H2426.2V411.9H2411.5zM2429.8 404.6H2433.5V411.9H2429.8z"/>
<rect x="1266" y="29" width="3.7" height="449" fill="#0f4d00"/>
<rect x="1269.7" y="36" width="3.7" height="425" fill="#1a7e00"/>
<rect x="85" y="426" width="1181" height="169.5" fill="url(#gM1)"/>
<path fill="#fff" opacity="0.03" d="M118 447.8H121.7V531.3H118zM125.3 426H129V595.5H125.3zM136.3 426H140V595.5H136.3zM143.7 489.5H147.4V595.5H143.7zM158.4 426H162V595.5H158.4zM162 472.4H165.7V555.9H162zM176.7 426H180.4V595.5H176.7zM180.4 466.7H184V557.6H180.4zM198.7 426H202.4V595.5H198.7zM206 526.4H209.7V579.6H206zM228 525.3H231.7V595.5H228zM231.7 450.5H235.4V563.2H231.7zM253.7 426H257.4V595.5H253.7zM264.7 426H272.1V595.5H264.7zM279.4 426H283.1V595.5H279.4zM305.1 481.5H308.7V540H305.1zM312.4 426H319.7V595.5H312.4zM327.1 426H330.7V595.5H327.1zM341.7 426H345.4V595.5H341.7zM352.7 456.8H356.4V555.3H352.7zM356.4 426H360.1V595.5H356.4zM367.4 437.6H371.1V530.1H367.4zM415.1 426H418.8V595.5H415.1zM444.4 525.8H448.1V595.5H444.4zM495.8 426H499.5V595.5H495.8zM514.1 426H517.8V595.5H514.1zM543.5 455.2H547.1V566H543.5zM547.1 498.8H550.8V595.5H547.1zM591.1 476.2H594.8V592.3H591.1zM616.8 426H620.5V595.5H616.8zM624.2 426H627.8V595.5H624.2zM642.5 426H646.2V595.5H642.5zM671.8 426H675.5V595.5H671.8zM682.8 426H686.5V595.5H682.8zM712.2 426H715.8V595.5H712.2zM730.5 474.8H734.2V523.4H730.5zM752.5 501.7H756.2V583.3H752.5zM767.2 426H770.9V595.5H767.2zM778.2 520H781.9V592.9H778.2zM785.5 458.3H789.2V509.6H785.5zM796.5 426H800.2V595.5H796.5zM807.5 501.3H811.2V580.7H807.5zM814.9 426H818.5V595.5H814.9zM840.5 429.7H844.2V500.8H840.5zM844.2 502.2H847.9V585.5H844.2zM858.9 426H862.6V595.5H858.9zM895.6 442.5H899.2V546.6H895.6zM899.2 426H902.9V595.5H899.2zM906.6 438.3H910.2V553.5H906.6zM910.2 479.1H913.9V562.3H910.2zM917.6 443H921.2V526.6H917.6zM950.6 426H954.2V595.5H950.6zM954.2 455.5H957.9V513.8H954.2zM987.3 492.9H990.9V576.5H987.3zM1016.6 426H1020.3V595.5H1016.6zM1034.9 494.9H1038.6V588.9H1034.9zM1078.9 447.9H1082.6V504.3H1078.9zM1082.6 467.3H1086.3V536.9H1082.6zM1086.3 426H1090V595.5H1086.3zM1112 523.9H1115.6V595.5H1112zM1163.3 453H1167V547.1H1163.3zM1170.6 521H1174.3V595.5H1170.6zM1174.3 479.1H1178V540.2H1174.3zM1189 426H1192.6V595.5H1189zM1211 496.4H1214.7V563H1211zM1225.7 426H1229.3V595.5H1225.7zM1244 485.2H1247.7V528.3H1244zM1258.7 426H1262.3V595.5H1258.7z"/>
<path fill="#000" opacity="0.04" d="M85 428.2H88.7V539.1H85zM154.7 518.1H158.4V584.4H154.7zM187.7 426H191.4V595.5H187.7zM235.4 426H239V595.5H235.4zM250 427.9H253.7V525.9H250zM261 426H264.7V595.5H261zM330.7 437.2H334.4V553.9H330.7zM429.8 426H433.4V595.5H429.8zM440.8 461.4H444.4V522.8H440.8zM466.4 467.9H470.1V503.6H466.4zM470.1 426H473.8V595.5H470.1zM477.4 426H481.1V595.5H477.4zM499.5 426H503.1V595.5H499.5zM550.8 495.9H554.5V588.3H550.8zM561.8 428.8H565.5V521.3H561.8zM565.5 524.1H569.1V595.5H565.5zM583.8 432.8H587.5V467.9H583.8zM598.5 426H602.1V595.5H598.5zM602.1 456.8H605.8V525.4H602.1zM620.5 426H624.2V595.5H620.5zM627.8 426H631.5V595.5H627.8zM638.8 445.3H642.5V555.9H638.8zM653.5 435.9H657.2V553.1H653.5zM668.2 427.5H671.8V533.7H668.2zM686.5 479.2H690.2V522.5H686.5zM690.2 426H693.8V595.5H690.2zM693.8 503.8H697.5V556.7H693.8zM697.5 465.1H701.2V529.9H697.5zM719.5 470.6H723.2V514.3H719.5zM734.2 438H737.9V477.7H734.2zM774.5 513.9H778.2V565.8H774.5zM803.9 492.4H807.5V569.9H803.9zM811.2 487.5H814.9V576.6H811.2zM836.9 486.8H840.5V595.5H836.9zM862.6 478H866.2V592.3H862.6zM877.2 426H884.6V595.5H877.2zM888.2 426H891.9V595.5H888.2zM891.9 460.9H895.6V551.5H891.9zM902.9 483.1H906.6V577.4H902.9zM943.2 426H946.9V595.5H943.2zM1001.9 517.3H1005.6V595.5H1001.9zM1005.6 426H1009.3V595.5H1005.6zM1009.3 463.2H1012.9V541.5H1009.3zM1042.3 426H1045.9V595.5H1042.3zM1049.6 523.4H1053.3V574.9H1049.6zM1064.3 426H1067.9V595.5H1064.3zM1108.3 427.8H1112V519H1108.3zM1134 426H1137.6V595.5H1134zM1137.6 509.6H1141.3V594.4H1137.6zM1152.3 480.4H1156V575.8H1152.3zM1156 426.5H1159.6V475.1H1156zM1185.3 434.5H1189V482.2H1185.3zM1196.3 426H1200V595.5H1196.3zM1203.6 445.2H1207.3V557.8H1203.6zM1218.3 426H1222V595.5H1218.3zM1229.3 426H1233V595.5H1229.3zM1240.3 493.5H1244V575.3H1240.3zM1251.3 469.1H1255V548.2H1251.3zM1262.3 491.1H1266V583.5H1262.3z"/>
<path fill="#74003c"  d="M85 418.6H114.3V426H85zM118 418.6H121.7V426H118zM125.3 418.6H213.4V426H125.3zM217 418.6H411.4V426H217zM415.1 418.6H477.4V426H415.1zM481.1 418.6H554.5V426H481.1zM558.1 418.6H591.1V426H558.1zM594.8 418.6H627.8V426H594.8zM631.5 418.6H767.2V426H631.5zM770.9 418.6H866.2V426H770.9zM869.9 418.6H913.9V426H869.9zM917.6 418.6H921.2V426H917.6zM924.9 418.6H954.2V426H924.9zM957.9 418.6H1097.3V426H957.9zM1101 418.6H1115.6V426H1101zM1119.3 418.6H1126.6V426H1119.3zM1130.3 418.6H1244V426H1130.3zM1247.7 418.6H1266V426H1247.7z"/>
<path fill="#74003c"  d="M85 595.5H103.3V602.9H85zM107 595.5H129V602.9H107zM132.7 595.5H140V602.9H132.7zM143.7 595.5H151V602.9H143.7zM154.7 595.5H176.7V602.9H154.7zM180.4 595.5H184V602.9H180.4zM187.7 595.5H239V602.9H187.7zM242.7 595.5H253.7V602.9H242.7zM257.4 595.5H279.4V602.9H257.4zM286.7 595.5H330.7V602.9H286.7zM334.4 595.5H378.4V602.9H334.4zM382.1 595.5H426.1V602.9H382.1zM429.8 595.5H451.8V602.9H429.8zM455.4 595.5H466.4V602.9H455.4zM470.1 595.5H473.8V602.9H470.1zM481.1 595.5H653.5V602.9H481.1zM657.2 595.5H671.8V602.9H657.2zM675.5 595.5H686.5V602.9H675.5zM690.2 595.5H708.5V602.9H690.2zM712.2 595.5H730.5V602.9H712.2zM734.2 595.5H745.2V602.9H734.2zM748.9 595.5H759.9V602.9H748.9zM763.5 595.5H778.2V602.9H763.5zM781.9 595.5H789.2V602.9H781.9zM792.9 595.5H796.5V602.9H792.9zM807.5 595.5H847.9V602.9H807.5zM851.5 595.5H961.6V602.9H851.5zM965.2 595.5H983.6V602.9H965.2zM987.3 595.5H1009.3V602.9H987.3zM1012.9 595.5H1042.3V602.9H1012.9zM1045.9 595.5H1207.3V602.9H1045.9zM1211 595.5H1233V602.9H1211zM1236.7 595.5H1251.3V602.9H1236.7zM1255 595.5H1266V602.9H1255z"/>
<rect x="1266" y="500" width="1167.5" height="22" fill="#c4005f"/>
<rect x="1266" y="506.8" width="1167.5" height="7.6" fill="#f5007e"/>
<path fill="#fff" opacity="0.06" d="M1284.4 500H1295.4V506.8H1284.4zM1299 500H1302.7V506.8H1299zM1313.7 500H1321.1V506.8H1313.7zM1339.4 500H1343.1V506.8H1339.4zM1368.8 500H1372.5V506.8H1368.8zM1398.2 500H1401.8V506.8H1398.2zM1409.2 500H1412.9V506.8H1409.2zM1423.9 500H1427.5V506.8H1423.9zM1442.2 500H1445.9V506.8H1442.2zM1456.9 500H1460.6V506.8H1456.9zM1471.6 500H1475.3V506.8H1471.6zM1490 500H1493.6V506.8H1490zM1515.7 500H1519.3V506.8H1515.7zM1523 500H1526.7V506.8H1523zM1530.3 500H1534V506.8H1530.3zM1541.4 500H1545V506.8H1541.4zM1556 500H1559.7V506.8H1556zM1578.1 500H1581.7V506.8H1578.1zM1607.4 500H1614.8V506.8H1607.4zM1622.1 500H1625.8V506.8H1622.1zM1636.8 500H1640.5V506.8H1636.8zM1655.2 500H1658.8V506.8H1655.2zM1666.2 500H1669.9V506.8H1666.2zM1688.2 500H1691.9V506.8H1688.2zM1695.6 500H1699.2V506.8H1695.6zM1706.6 500H1710.2V506.8H1706.6zM1713.9 500H1717.6V506.8H1713.9zM1721.3 500H1743.3V506.8H1721.3zM1747 500H1750.6V506.8H1747zM1761.6 500H1765.3V506.8H1761.6zM1769 500H1772.7V506.8H1769zM1776.3 500H1780V506.8H1776.3zM1794.7 500H1802V506.8H1794.7zM1820.4 500H1824.1V506.8H1820.4zM1846.1 500H1849.8V506.8H1846.1zM1857.1 500H1864.4V506.8H1857.1zM1915.8 500H1919.5V506.8H1915.8zM1934.2 500H1937.9V506.8H1934.2zM1941.5 500H1945.2V506.8H1941.5zM1952.5 500H1956.2V506.8H1952.5zM1963.6 500H1967.2V506.8H1963.6zM1970.9 500H1974.6V506.8H1970.9zM1985.6 500H1992.9V506.8H1985.6zM2029.6 500H2033.3V506.8H2029.6zM2055.3 500H2059V506.8H2055.3zM2110.4 500H2117.8V506.8H2110.4zM2121.4 500H2125.1V506.8H2121.4zM2128.8 500H2136.1V506.8H2128.8zM2139.8 500H2143.5V506.8H2139.8zM2165.5 500H2169.2V506.8H2165.5zM2176.5 500H2180.2V506.8H2176.5zM2187.5 500H2191.2V506.8H2187.5zM2194.9 500H2198.5V506.8H2194.9zM2202.2 500H2209.5V506.8H2202.2zM2220.6 500H2224.2V506.8H2220.6zM2242.6 500H2246.3V506.8H2242.6zM2249.9 500H2253.6V506.8H2249.9zM2272 500H2275.6V506.8H2272zM2286.6 500H2290.3V506.8H2286.6zM2330.7 500H2334.4V506.8H2330.7zM2374.8 500H2378.4V506.8H2374.8zM2385.8 500H2389.4V506.8H2385.8zM2396.8 500H2404.1V506.8H2396.8zM2429.8 500H2433.5V506.8H2429.8z"/>
<path fill="#000" opacity="0.12" d="M1266 500H1277V506.8H1266zM1295.4 500H1299V506.8H1295.4zM1324.7 500H1328.4V506.8H1324.7zM1332.1 500H1339.4V506.8H1332.1zM1350.4 500H1357.8V506.8H1350.4zM1365.1 500H1368.8V506.8H1365.1zM1372.5 500H1376.1V506.8H1372.5zM1379.8 500H1383.5V506.8H1379.8zM1390.8 500H1394.5V506.8H1390.8zM1412.9 500H1416.5V506.8H1412.9zM1438.6 500H1442.2V506.8H1438.6zM1445.9 500H1449.6V506.8H1445.9zM1475.3 500H1482.6V506.8H1475.3zM1486.3 500H1490V506.8H1486.3zM1497.3 500H1501V506.8H1497.3zM1504.6 500H1508.3V506.8H1504.6zM1537.7 500H1541.4V506.8H1537.7zM1545 500H1548.7V506.8H1545zM1552.4 500H1556V506.8H1552.4zM1563.4 500H1567.1V506.8H1563.4zM1570.7 500H1578.1V506.8H1570.7zM1585.4 500H1589.1V506.8H1585.4zM1596.4 500H1600.1V506.8H1596.4zM1603.8 500H1607.4V506.8H1603.8zM1614.8 500H1618.5V506.8H1614.8zM1625.8 500H1629.5V506.8H1625.8zM1633.1 500H1636.8V506.8H1633.1zM1644.2 500H1647.8V506.8H1644.2zM1662.5 500H1666.2V506.8H1662.5zM1669.9 500H1673.5V506.8H1669.9zM1677.2 500H1680.9V506.8H1677.2zM1699.2 500H1702.9V506.8H1699.2zM1710.2 500H1713.9V506.8H1710.2zM1717.6 500H1721.3V506.8H1717.6zM1754.3 500H1761.6V506.8H1754.3zM1783.7 500H1787.3V506.8H1783.7zM1813 500H1820.4V506.8H1813zM1824.1 500H1831.4V506.8H1824.1zM1835.1 500H1842.4V506.8H1835.1zM1853.4 500H1857.1V506.8H1853.4zM1875.4 500H1882.8V506.8H1875.4zM1886.5 500H1890.1V506.8H1886.5zM1904.8 500H1908.5V506.8H1904.8zM1945.2 500H1948.9V506.8H1945.2zM1956.2 500H1959.9V506.8H1956.2zM1974.6 500H1978.2V506.8H1974.6zM1996.6 500H2007.6V506.8H1996.6zM2018.6 500H2022.3V506.8H2018.6zM2048 500H2051.7V506.8H2048zM2077.4 500H2081V506.8H2077.4zM2084.7 500H2095.7V506.8H2084.7zM2125.1 500H2128.8V506.8H2125.1zM2147.1 500H2150.8V506.8H2147.1zM2154.5 500H2165.5V506.8H2154.5zM2169.2 500H2176.5V506.8H2169.2zM2183.8 500H2187.5V506.8H2183.8zM2198.5 500H2202.2V506.8H2198.5zM2224.2 500H2227.9V506.8H2224.2zM2231.6 500H2235.2V506.8H2231.6zM2279.3 500H2286.6V506.8H2279.3zM2319.7 500H2323.4V506.8H2319.7zM2327 500H2330.7V506.8H2327zM2334.4 500H2338V506.8H2334.4zM2360.1 500H2367.4V506.8H2360.1zM2371.1 500H2374.8V506.8H2371.1zM2404.1 500H2411.5V506.8H2404.1zM2418.8 500H2422.5V506.8H2418.8z"/>
<path fill="#fff" opacity="0.06" d="M1269.7 514.4H1277V522H1269.7zM1280.7 514.4H1284.4V522H1280.7zM1310.1 514.4H1313.7V522H1310.1zM1343.1 514.4H1346.8V522H1343.1zM1350.4 514.4H1361.5V522H1350.4zM1387.2 514.4H1390.8V522H1387.2zM1401.8 514.4H1405.5V522H1401.8zM1420.2 514.4H1423.9V522H1420.2zM1434.9 514.4H1438.6V522H1434.9zM1453.2 514.4H1456.9V522H1453.2zM1478.9 514.4H1482.6V522H1478.9zM1526.7 514.4H1530.3V522H1526.7zM1567.1 514.4H1570.7V522H1567.1zM1578.1 514.4H1581.7V522H1578.1zM1585.4 514.4H1589.1V522H1585.4zM1596.4 514.4H1600.1V522H1596.4zM1603.8 514.4H1607.4V522H1603.8zM1636.8 514.4H1640.5V522H1636.8zM1655.2 514.4H1658.8V522H1655.2zM1669.9 514.4H1673.5V522H1669.9zM1684.5 514.4H1688.2V522H1684.5zM1702.9 514.4H1706.6V522H1702.9zM1710.2 514.4H1717.6V522H1710.2zM1728.6 514.4H1732.3V522H1728.6zM1739.6 514.4H1743.3V522H1739.6zM1750.6 514.4H1754.3V522H1750.6zM1761.6 514.4H1769V522H1761.6zM1776.3 514.4H1780V522H1776.3zM1838.7 514.4H1842.4V522H1838.7zM1849.8 514.4H1853.4V522H1849.8zM1860.8 514.4H1864.4V522H1860.8zM1875.4 514.4H1879.1V522H1875.4zM1893.8 514.4H1901.1V522H1893.8zM1908.5 514.4H1915.8V522H1908.5zM1919.5 514.4H1923.2V522H1919.5zM1926.8 514.4H1934.2V522H1926.8zM1948.9 514.4H1952.5V522H1948.9zM1956.2 514.4H1959.9V522H1956.2zM1978.2 514.4H1981.9V522H1978.2zM1996.6 514.4H2000.3V522H1996.6zM2048 514.4H2051.7V522H2048zM2059 514.4H2062.7V522H2059zM2088.4 514.4H2092.1V522H2088.4zM2143.5 514.4H2147.1V522H2143.5zM2165.5 514.4H2169.2V522H2165.5zM2183.8 514.4H2187.5V522H2183.8zM2198.5 514.4H2202.2V522H2198.5zM2209.5 514.4H2213.2V522H2209.5zM2216.9 514.4H2220.6V522H2216.9zM2246.3 514.4H2253.6V522H2246.3zM2279.3 514.4H2283V522H2279.3zM2319.7 514.4H2330.7V522H2319.7zM2341.7 514.4H2345.4V522H2341.7zM2360.1 514.4H2367.4V522H2360.1zM2389.4 514.4H2393.1V522H2389.4zM2400.5 514.4H2407.8V522H2400.5zM2411.5 514.4H2415.1V522H2411.5zM2429.8 514.4H2433.5V522H2429.8z"/>
<path fill="#000" opacity="0.12" d="M1277 514.4H1280.7V522H1277zM1284.4 514.4H1291.7V522H1284.4zM1295.4 514.4H1299V522H1295.4zM1313.7 514.4H1324.7V522H1313.7zM1332.1 514.4H1335.8V522H1332.1zM1346.8 514.4H1350.4V522H1346.8zM1361.5 514.4H1365.1V522H1361.5zM1390.8 514.4H1398.2V522H1390.8zM1409.2 514.4H1420.2V522H1409.2zM1464.3 514.4H1467.9V522H1464.3zM1486.3 514.4H1493.6V522H1486.3zM1501 514.4H1504.6V522H1501zM1530.3 514.4H1534V522H1530.3zM1548.7 514.4H1552.4V522H1548.7zM1570.7 514.4H1574.4V522H1570.7zM1600.1 514.4H1603.8V522H1600.1zM1618.5 514.4H1622.1V522H1618.5zM1644.2 514.4H1651.5V522H1644.2zM1673.5 514.4H1680.9V522H1673.5zM1691.9 514.4H1695.6V522H1691.9zM1706.6 514.4H1710.2V522H1706.6zM1717.6 514.4H1721.3V522H1717.6zM1798.4 514.4H1802V522H1798.4zM1809.4 514.4H1813V522H1809.4zM1827.7 514.4H1835.1V522H1827.7zM1871.8 514.4H1875.4V522H1871.8zM1879.1 514.4H1882.8V522H1879.1zM1886.5 514.4H1890.1V522H1886.5zM1901.1 514.4H1904.8V522H1901.1zM1941.5 514.4H1948.9V522H1941.5zM1952.5 514.4H1956.2V522H1952.5zM1981.9 514.4H1992.9V522H1981.9zM2000.3 514.4H2007.6V522H2000.3zM2015 514.4H2022.3V522H2015zM2029.6 514.4H2033.3V522H2029.6zM2040.7 514.4H2048V522H2040.7zM2062.7 514.4H2066.4V522H2062.7zM2070 514.4H2077.4V522H2070zM2084.7 514.4H2088.4V522H2084.7zM2106.7 514.4H2110.4V522H2106.7zM2114.1 514.4H2125.1V522H2114.1zM2136.1 514.4H2139.8V522H2136.1zM2158.1 514.4H2161.8V522H2158.1zM2176.5 514.4H2180.2V522H2176.5zM2191.2 514.4H2198.5V522H2191.2zM2220.6 514.4H2227.9V522H2220.6zM2242.6 514.4H2246.3V522H2242.6zM2260.9 514.4H2264.6V522H2260.9zM2268.3 514.4H2279.3V522H2268.3zM2294 514.4H2312.3V522H2294zM2330.7 514.4H2334.4V522H2330.7zM2349.1 514.4H2352.7V522H2349.1zM2374.8 514.4H2378.4V522H2374.8zM2385.8 514.4H2389.4V522H2385.8zM2407.8 514.4H2411.5V522H2407.8zM2422.5 514.4H2429.8V522H2422.5z"/>
<path fill="#74003c"  d="M1273.3 492.6H1288V500H1273.3zM1288 489H1291.7V500H1288zM1291.7 492.6H1295.4V500H1291.7zM1295.4 489H1299V500H1295.4zM1299 492.6H1302.7V500H1299zM1302.7 481.6H1306.4V500H1302.7zM1306.4 492.6H1332.1V500H1306.4zM1335.8 489H1339.4V500H1335.8zM1339.4 492.6H1350.4V500H1339.4zM1354.1 492.6H1368.8V500H1354.1zM1372.5 492.6H1383.5V500H1372.5zM1387.2 492.6H1390.8V500H1387.2zM1390.8 489H1394.5V500H1390.8zM1394.5 492.6H1398.2V500H1394.5zM1398.2 489H1401.8V500H1398.2zM1405.5 489H1409.2V500H1405.5zM1409.2 492.6H1431.2V500H1409.2zM1431.2 489H1438.6V500H1431.2zM1438.6 492.6H1449.6V500H1438.6zM1449.6 489H1453.2V500H1449.6zM1456.9 489H1464.3V500H1456.9zM1464.3 492.6H1471.6V500H1464.3zM1475.3 492.6H1478.9V500H1475.3zM1478.9 489H1493.6V500H1478.9zM1497.3 492.6H1504.6V500H1497.3zM1508.3 492.6H1515.7V500H1508.3zM1519.3 489H1523V500H1519.3zM1530.3 489H1537.7V500H1530.3zM1545 492.6H1559.7V500H1545zM1559.7 489H1563.4V500H1559.7zM1563.4 492.6H1567.1V500H1563.4zM1567.1 489H1574.4V500H1567.1zM1574.4 492.6H1585.4V500H1574.4zM1589.1 492.6H1600.1V500H1589.1zM1600.1 489H1603.8V500H1600.1zM1611.1 492.6H1614.8V500H1611.1zM1618.5 489H1622.1V500H1618.5zM1622.1 492.6H1625.8V500H1622.1zM1633.1 492.6H1651.5V500H1633.1zM1651.5 489H1655.2V500H1651.5zM1662.5 492.6H1688.2V500H1662.5zM1688.2 489H1691.9V500H1688.2zM1695.6 492.6H1706.6V500H1695.6zM1713.9 492.6H1717.6V500H1713.9zM1721.3 492.6H1724.9V500H1721.3zM1728.6 489H1732.3V500H1728.6zM1732.3 492.6H1735.9V500H1732.3zM1739.6 489H1743.3V500H1739.6zM1743.3 492.6H1754.3V500H1743.3zM1754.3 489H1772.7V500H1754.3zM1772.7 492.6H1791V500H1772.7zM1791 489H1798.4V500H1791zM1798.4 492.6H1809.4V500H1798.4zM1816.7 492.6H1827.7V500H1816.7zM1831.4 492.6H1838.7V500H1831.4zM1838.7 489H1842.4V500H1838.7zM1842.4 492.6H1860.8V500H1842.4zM1860.8 489H1864.4V500H1860.8zM1864.4 492.6H1868.1V500H1864.4zM1868.1 489H1871.8V500H1868.1zM1871.8 492.6H1879.1V500H1871.8zM1879.1 489H1882.8V500H1879.1zM1882.8 492.6H1890.1V500H1882.8zM1897.5 492.6H1904.8V500H1897.5zM1904.8 489H1908.5V500H1904.8zM1908.5 492.6H1912.2V500H1908.5zM1915.8 489H1919.5V500H1915.8zM1919.5 492.6H1926.8V500H1919.5zM1934.2 489H1941.5V500H1934.2zM1941.5 492.6H1948.9V500H1941.5zM1952.5 492.6H1956.2V500H1952.5zM1956.2 489H1959.9V500H1956.2zM1959.9 492.6H1963.6V500H1959.9zM1963.6 489H1967.2V500H1963.6zM1967.2 492.6H1989.3V500H1967.2zM1989.3 489H1992.9V500H1989.3zM1992.9 492.6H2000.3V500H1992.9zM2003.9 492.6H2015V500H2003.9zM2018.6 489H2022.3V500H2018.6zM2022.3 492.6H2044.3V500H2022.3zM2055.3 492.6H2070V500H2055.3zM2070 489H2073.7V500H2070zM2073.7 492.6H2077.4V500H2073.7zM2081 492.6H2088.4V500H2081zM2095.7 492.6H2106.7V500H2095.7zM2110.4 489H2117.8V500H2110.4zM2117.8 492.6H2136.1V500H2117.8zM2139.8 492.6H2143.5V500H2139.8zM2147.1 492.6H2150.8V500H2147.1zM2150.8 489H2165.5V500H2150.8zM2165.5 492.6H2172.8V500H2165.5zM2176.5 492.6H2183.8V500H2176.5zM2187.5 492.6H2191.2V500H2187.5zM2194.9 489H2198.5V500H2194.9zM2198.5 492.6H2202.2V500H2198.5zM2202.2 489H2205.9V500H2202.2zM2205.9 492.6H2209.5V500H2205.9zM2209.5 489H2213.2V500H2209.5zM2213.2 492.6H2216.9V500H2213.2zM2220.6 492.6H2224.2V500H2220.6zM2235.2 492.6H2242.6V500H2235.2zM2246.3 492.6H2249.9V500H2246.3zM2253.6 492.6H2260.9V500H2253.6zM2260.9 489H2264.6V500H2260.9zM2264.6 492.6H2290.3V500H2264.6zM2290.3 489H2294V500H2290.3zM2294 492.6H2297.7V500H2294zM2301.3 492.6H2305V500H2301.3zM2305 489H2308.7V500H2305zM2316 492.6H2323.4V500H2316zM2323.4 485.3H2327V500H2323.4zM2338 489H2341.7V500H2338zM2345.4 492.6H2382.1V500H2345.4zM2382.1 481.6H2385.8V500H2382.1zM2385.8 492.6H2389.4V500H2385.8zM2393.1 492.6H2400.5V500H2393.1zM2404.1 492.6H2407.8V500H2404.1zM2407.8 489H2411.5V500H2407.8zM2411.5 492.6H2415.1V500H2411.5zM2415.1 489H2418.8V500H2415.1zM2418.8 492.6H2429.8V500H2418.8z"/>
<path fill="#74003c"  d="M1266 522H1277V529.4H1266zM1277 522H1280.7V533H1277zM1291.7 522H1295.4V533H1291.7zM1295.4 522H1313.7V529.4H1295.4zM1313.7 522H1317.4V533H1313.7zM1317.4 522H1324.7V529.4H1317.4zM1328.4 522H1332.1V529.4H1328.4zM1332.1 522H1335.8V533H1332.1zM1335.8 522H1339.4V529.4H1335.8zM1346.8 522H1350.4V529.4H1346.8zM1350.4 522H1354.1V533H1350.4zM1354.1 522H1357.8V529.4H1354.1zM1357.8 522H1361.5V533H1357.8zM1361.5 522H1365.1V529.4H1361.5zM1368.8 522H1376.1V529.4H1368.8zM1379.8 522H1387.2V529.4H1379.8zM1387.2 522H1390.8V540.4H1387.2zM1390.8 522H1394.5V529.4H1390.8zM1398.2 522H1409.2V529.4H1398.2zM1409.2 522H1412.9V540.4H1409.2zM1412.9 522H1416.5V529.4H1412.9zM1416.5 522H1420.2V533H1416.5zM1423.9 522H1431.2V533H1423.9zM1431.2 522H1438.6V529.4H1431.2zM1445.9 522H1456.9V529.4H1445.9zM1456.9 522H1460.6V533H1456.9zM1464.3 522H1467.9V529.4H1464.3zM1467.9 522H1471.6V533H1467.9zM1471.6 522H1475.3V529.4H1471.6zM1475.3 522H1478.9V533H1475.3zM1486.3 522H1490V533H1486.3zM1490 522H1501V529.4H1490zM1504.6 522H1508.3V529.4H1504.6zM1512 522H1523V533H1512zM1526.7 522H1534V529.4H1526.7zM1534 522H1548.7V533H1534zM1552.4 522H1556V529.4H1552.4zM1556 522H1559.7V533H1556zM1559.7 522H1567.1V529.4H1559.7zM1567.1 522H1578.1V533H1567.1zM1581.7 522H1592.8V529.4H1581.7zM1592.8 522H1596.4V533H1592.8zM1596.4 522H1600.1V529.4H1596.4zM1611.1 522H1622.1V529.4H1611.1zM1622.1 522H1625.8V533H1622.1zM1629.5 522H1644.2V529.4H1629.5zM1651.5 522H1655.2V529.4H1651.5zM1655.2 522H1658.8V533H1655.2zM1662.5 522H1666.2V529.4H1662.5zM1669.9 522H1680.9V529.4H1669.9zM1684.5 522H1691.9V529.4H1684.5zM1695.6 522H1706.6V529.4H1695.6zM1706.6 522H1710.2V533H1706.6zM1713.9 522H1717.6V533H1713.9zM1717.6 522H1721.3V540.4H1717.6zM1721.3 522H1728.6V529.4H1721.3zM1732.3 522H1735.9V533H1732.3zM1739.6 522H1743.3V529.4H1739.6zM1743.3 522H1747V533H1743.3zM1750.6 522H1754.3V540.4H1750.6zM1754.3 522H1758V529.4H1754.3zM1758 522H1761.6V533H1758zM1765.3 522H1769V533H1765.3zM1769 522H1780V529.4H1769zM1780 522H1783.7V533H1780zM1783.7 522H1794.7V529.4H1783.7zM1794.7 522H1798.4V533H1794.7zM1798.4 522H1805.7V529.4H1798.4zM1813 522H1820.4V533H1813zM1824.1 522H1827.7V529.4H1824.1zM1827.7 522H1835.1V533H1827.7zM1835.1 522H1849.8V529.4H1835.1zM1857.1 522H1875.4V529.4H1857.1zM1879.1 522H1886.5V529.4H1879.1zM1893.8 522H1904.8V529.4H1893.8zM1904.8 522H1908.5V533H1904.8zM1908.5 522H1912.2V529.4H1908.5zM1915.8 522H1919.5V529.4H1915.8zM1919.5 522H1923.2V536.7H1919.5zM1926.8 522H1934.2V529.4H1926.8zM1937.9 522H1941.5V529.4H1937.9zM1941.5 522H1945.2V536.7H1941.5zM1945.2 522H1952.5V529.4H1945.2zM1952.5 522H1956.2V533H1952.5zM1959.9 522H1967.2V529.4H1959.9zM1970.9 522H1978.2V533H1970.9zM1978.2 522H1981.9V529.4H1978.2zM1985.6 522H1989.3V533H1985.6zM1992.9 522H1996.6V533H1992.9zM1996.6 522H2000.3V529.4H1996.6zM2000.3 522H2003.9V533H2000.3zM2011.3 522H2022.3V529.4H2011.3zM2026 522H2029.6V536.7H2026zM2029.6 522H2033.3V529.4H2029.6zM2033.3 522H2037V533H2033.3zM2040.7 522H2070V529.4H2040.7zM2073.7 522H2077.4V529.4H2073.7zM2081 522H2084.7V533H2081zM2084.7 522H2095.7V529.4H2084.7zM2095.7 522H2103.1V533H2095.7zM2103.1 522H2106.7V540.4H2103.1zM2110.4 522H2117.8V533H2110.4zM2117.8 522H2121.4V529.4H2117.8zM2121.4 522H2132.4V533H2121.4zM2132.4 522H2143.5V529.4H2132.4zM2154.5 522H2172.8V529.4H2154.5zM2172.8 522H2176.5V533H2172.8zM2176.5 522H2180.2V529.4H2176.5zM2183.8 522H2187.5V529.4H2183.8zM2187.5 522H2191.2V533H2187.5zM2194.9 522H2198.5V533H2194.9zM2198.5 522H2202.2V529.4H2198.5zM2202.2 522H2205.9V533H2202.2zM2205.9 522H2213.2V529.4H2205.9zM2213.2 522H2216.9V533H2213.2zM2220.6 522H2231.6V529.4H2220.6zM2231.6 522H2235.2V533H2231.6zM2238.9 522H2242.6V529.4H2238.9zM2246.3 522H2249.9V529.4H2246.3zM2253.6 522H2257.3V540.4H2253.6zM2257.3 522H2272V529.4H2257.3zM2275.6 522H2279.3V533H2275.6zM2279.3 522H2286.6V529.4H2279.3zM2297.7 522H2305V529.4H2297.7zM2308.7 522H2312.3V529.4H2308.7zM2316 522H2319.7V533H2316zM2323.4 522H2330.7V529.4H2323.4zM2334.4 522H2338V529.4H2334.4zM2338 522H2341.7V533H2338zM2341.7 522H2349.1V529.4H2341.7zM2356.4 522H2360.1V533H2356.4zM2374.8 522H2382.1V529.4H2374.8zM2385.8 522H2389.4V529.4H2385.8zM2393.1 522H2400.5V529.4H2393.1zM2400.5 522H2407.8V533H2400.5zM2407.8 522H2411.5V529.4H2407.8zM2415.1 522H2422.5V529.4H2415.1zM2422.5 522H2426.2V533H2422.5zM2426.2 522H2429.8V536.7H2426.2zM2429.8 522H2433.5V529.4H2429.8z"/>
<rect x="85" y="646.8" width="1181" height="323.7" fill="url(#gB1)"/>
<path fill="url(#gB1)" d="M1266 629.1V628.9H1269.7H1273.3H1277H1280.7H1284.4H1288H1291.7H1295.4V632.6H1299H1302.7H1306.4H1310.1H1313.7H1317.4H1321.1H1324.7H1328.4H1332.1H1335.8H1339.4H1343.1H1346.8H1350.4H1354.1H1357.8H1361.5H1365.1H1368.8H1372.5H1376.1H1379.8H1383.5H1387.2H1390.8H1394.5H1398.2V636.3H1401.8H1405.5H1409.2H1412.9H1416.5H1420.2H1423.9H1427.5H1431.2H1434.9H1438.6H1442.2H1445.9H1449.6H1453.2H1456.9H1460.6H1464.3H1467.9H1471.6H1475.3H1478.9H1482.6H1486.3H1490H1493.6H1497.3H1501H1504.6V640H1508.3H1512H1515.7H1519.3H1523H1526.7H1530.3H1534H1537.7H1541.4H1545H1548.7H1552.4H1556H1559.7H1563.4H1567.1H1570.7H1574.4H1578.1H1581.7H1585.4H1589.1H1592.8H1596.4H1600.1H1603.8H1607.4H1611.1H1614.8H1618.5H1622.1V643.6H1625.8H1629.5H1633.1H1636.8H1640.5H1644.2H1647.8H1651.5H1655.2H1658.8H1662.5H1666.2H1669.9H1673.5H1677.2H1680.9H1684.5H1688.2H1691.9H1695.6H1699.2H1702.9H1706.6H1710.2H1713.9H1717.6H1721.3H1724.9H1728.6H1732.3H1735.9H1739.6V647.3H1743.3H1747H1750.6H1754.3H1758H1761.6H1765.3H1769H1772.7H1776.3H1780H1783.7H1787.3H1791H1794.7H1798.4H1802H1805.7H1809.4H1813H1816.7H1820.4H1824.1H1827.7H1831.4H1835.1H1838.7H1842.4H1846.1H1849.8H1853.4H1857.1H1860.8H1864.4H1868.1H1871.8H1875.4H1879.1H1882.8H1886.5H1890.1H1893.8H1897.5H1901.1H1904.8H1908.5H1912.2H1915.8H1919.5H1923.2H1926.8H1930.5H1934.2H1937.9H1941.5H1945.2H1948.9H1952.5H1956.2H1959.9H1963.6H1967.2H1970.9H1974.6H1978.2H1981.9H1985.6H1989.3H1992.9H1996.6H2000.3H2003.9H2007.6H2011.3H2015H2018.6H2022.3H2026H2029.6H2033.3H2037H2040.7H2044.3H2048H2051.7H2055.3H2059H2062.7H2066.4H2070H2073.7H2077.4H2081H2084.7H2088.4H2092.1H2095.7H2099.4H2103.1H2106.7H2110.4H2114.1H2117.8H2121.4H2125.1H2128.8H2132.4H2136.1H2139.8H2143.5H2147.1H2150.8H2154.5H2158.1H2161.8H2165.5H2169.2H2172.8H2176.5H2180.2H2183.8H2187.5H2191.2H2194.9H2198.5H2202.2H2205.9H2209.5H2213.2H2216.9H2220.6H2224.2H2227.9H2231.6H2235.2H2238.9H2242.6H2246.3H2249.9H2253.6H2257.3H2260.9H2264.6H2268.3H2272H2275.6H2279.3H2283H2286.6H2290.3H2294H2297.7H2301.3H2305H2308.7H2312.3H2316H2319.7H2323.4H2327H2330.7H2334.4H2338H2341.7H2345.4H2349.1H2352.7H2356.4H2360.1H2363.7H2367.4H2371.1H2374.8H2378.4H2382.1H2385.8H2389.4H2393.1H2396.8H2400.5H2404.1H2407.8H2411.5H2415.1H2418.8H2422.5H2426.2H2429.8H2433.5V971H2429.8H2426.2H2422.5H2418.8H2415.1H2411.5H2407.8H2404.1H2400.5H2396.8H2393.1H2389.4H2385.8H2382.1H2378.4H2374.8H2371.1H2367.4H2363.7H2360.1H2356.4H2352.7H2349.1H2345.4H2341.7H2338H2334.4H2330.7H2327H2323.4H2319.7H2316H2312.3H2308.7H2305H2301.3H2297.7H2294H2290.3H2286.6H2283H2279.3H2275.6H2272H2268.3H2264.6H2260.9H2257.3H2253.6H2249.9H2246.3H2242.6H2238.9H2235.2H2231.6H2227.9H2224.2H2220.6H2216.9H2213.2H2209.5H2205.9H2202.2H2198.5H2194.9H2191.2H2187.5H2183.8H2180.2H2176.5H2172.8H2169.2H2165.5H2161.8H2158.1H2154.5H2150.8H2147.1H2143.5H2139.8H2136.1H2132.4H2128.8H2125.1H2121.4H2117.8H2114.1H2110.4H2106.7H2103.1H2099.4H2095.7H2092.1H2088.4H2084.7H2081H2077.4H2073.7H2070H2066.4H2062.7H2059H2055.3H2051.7H2048H2044.3H2040.7H2037H2033.3H2029.6H2026H2022.3H2018.6H2015H2011.3H2007.6H2003.9H2000.3H1996.6H1992.9H1989.3H1985.6H1981.9H1978.2H1974.6H1970.9H1967.2H1963.6H1959.9H1956.2H1952.5H1948.9H1945.2H1941.5H1937.9H1934.2H1930.5H1926.8H1923.2H1919.5H1915.8H1912.2H1908.5H1904.8H1901.1H1897.5H1893.8H1890.1H1886.5H1882.8H1879.1H1875.4H1871.8H1868.1H1864.4H1860.8H1857.1H1853.4H1849.8H1846.1H1842.4H1838.7H1835.1H1831.4H1827.7H1824.1H1820.4H1816.7H1813H1809.4H1805.7H1802H1798.4H1794.7H1791H1787.3H1783.7H1780H1776.3H1772.7H1769H1765.3H1761.6H1758H1754.3H1750.6H1747H1743.3H1739.6H1735.9H1732.3H1728.6H1724.9H1721.3H1717.6H1713.9H1710.2H1706.6H1702.9H1699.2H1695.6H1691.9H1688.2H1684.5H1680.9H1677.2H1673.5H1669.9H1666.2H1662.5H1658.8H1655.2H1651.5H1647.8H1644.2H1640.5H1636.8H1633.1H1629.5H1625.8H1622.1H1618.5H1614.8H1611.1H1607.4H1603.8H1600.1H1596.4H1592.8H1589.1H1585.4H1581.7H1578.1H1574.4H1570.7H1567.1H1563.4H1559.7H1556H1552.4H1548.7H1545H1541.4H1537.7H1534H1530.3H1526.7H1523H1519.3H1515.7H1512H1508.3H1504.6H1501H1497.3H1493.6H1490H1486.3H1482.6H1478.9H1475.3H1471.6H1467.9H1464.3H1460.6H1456.9V974.7H1453.2H1449.6H1445.9H1442.2H1438.6H1434.9H1431.2H1427.5H1423.9H1420.2H1416.5H1412.9H1409.2H1405.5H1401.8H1398.2H1394.5H1390.8H1387.2V978.3H1383.5H1379.8H1376.1H1372.5H1368.8H1365.1H1361.5H1357.8H1354.1H1350.4H1346.8H1343.1H1339.4H1335.8H1332.1H1328.4H1324.7H1321.1H1317.4H1313.7V982H1310.1H1306.4H1302.7H1299H1295.4H1291.7H1288H1284.4H1280.7H1277V985.7H1273.3H1269.7H1266z"/>
<path fill="#fff" opacity="0.025" d="M85 835.7H88.7V942.9H85zM92.3 646.8H96V970.5H92.3zM107 646.8H110.7V970.5H107zM121.7 773.6H125.3V851.2H121.7zM125.3 801.5H129V954.7H125.3zM246.4 696.6H250V766.5H246.4zM279.4 685.2H283.1V850.9H279.4zM297.7 782.9H301.4V944.2H297.7zM308.7 809.1H312.4V970.5H308.7zM312.4 822.5H316.1V970.5H312.4zM316.1 646.8H319.7V970.5H316.1zM334.4 804.2H338.1V924.2H334.4zM338.1 646.8H341.7V970.5H338.1zM345.4 755H349.1V970.5H345.4zM356.4 646.8H360.1V970.5H356.4zM363.7 646.8H367.4V970.5H363.7zM378.4 646.8H382.1V970.5H378.4zM393.1 646.8H400.4V970.5H393.1zM426.1 774.6H429.8V850.1H426.1zM444.4 646.8H448.1V970.5H444.4zM466.4 812.2H470.1V968.9H466.4zM488.4 654.5H492.1V880.4H488.4zM499.5 646.8H503.1V970.5H499.5zM554.5 780.1H558.1V931.4H554.5zM580.1 661.3H583.8V807.2H580.1zM598.5 646.8H602.1V970.5H598.5zM605.8 646.8H609.5V970.5H605.8zM642.5 821.3H646.2V945H642.5zM657.2 646.8H660.8V970.5H657.2zM664.5 646.8H668.2V970.5H664.5zM715.8 710.5H719.5V787.7H715.8zM759.9 745.2H763.5V939.2H759.9zM767.2 646.8H778.2V970.5H767.2zM778.2 728.7H781.9V915.7H778.2zM807.5 646.8H811.2V970.5H807.5zM844.2 675.3H847.9V769.8H844.2zM888.2 830.5H891.9V955.7H888.2zM895.6 646.8H899.2V970.5H895.6zM939.6 836.3H943.2V970.5H939.6zM957.9 646.8H961.6V970.5H957.9zM998.3 784.4H1001.9V929.5H998.3zM1001.9 829.5H1005.6V957.5H1001.9zM1016.6 646.8H1020.3V970.5H1016.6zM1049.6 678.7H1053.3V849.2H1049.6zM1067.9 646.8H1071.6V970.5H1067.9zM1078.9 646.8H1082.6V970.5H1078.9zM1093.6 646.8H1097.3V970.5H1093.6zM1178 737.1H1181.6V817.5H1178zM1185.3 646.8H1189V970.5H1185.3zM1225.7 646.8H1229.3V970.5H1225.7zM1244 751.5H1247.7V958.7H1244z"/>
<path fill="#000" opacity="0.045" d="M88.7 646.8H92.3V970.5H88.7zM140 646.8H143.7V970.5H140zM165.7 646.8H169.4V970.5H165.7zM169.4 785.3H173V853.3H169.4zM176.7 646.8H180.4V970.5H176.7zM191.4 745.9H195V896.8H191.4zM195 646.8H198.7V970.5H195zM206 646.8H209.7V970.5H206zM217 769.5H220.7V838.2H217zM228 779.4H231.7V870.1H228zM275.7 828.7H279.4V970.5H275.7zM360.1 675.8H363.7V815.6H360.1zM411.4 646.8H415.1V970.5H411.4zM422.4 785.6H426.1V887.3H422.4zM429.8 646.8H437.1V970.5H429.8zM437.1 741.2H440.8V946.7H437.1zM462.8 646.8H466.4V970.5H462.8zM503.1 646.8H506.8V970.5H503.1zM517.8 646.8H521.5V970.5H517.8zM532.5 717H536.1V794.2H532.5zM561.8 777H565.5V896.9H561.8zM576.5 646.8H580.1V970.5H576.5zM594.8 646.8H598.5V970.5H594.8zM635.2 798H638.8V967.6H635.2zM653.5 646.8H657.2V970.5H653.5zM704.8 710H708.5V913.7H704.8zM712.2 646.8H715.8V970.5H712.2zM752.5 646.8H756.2V970.5H752.5zM796.5 646.8H800.2V970.5H796.5zM800.2 753.3H803.9V874.9H800.2zM818.5 708.5H822.2V859.5H818.5zM822.2 646.8H825.9V970.5H822.2zM833.2 755H836.9V936H833.2zM847.9 646.8H855.2V970.5H847.9zM855.2 682.3H858.9V770.4H855.2zM866.2 646.8H869.9V970.5H866.2zM913.9 671.8H917.6V847.7H913.9zM961.6 815.8H965.2V970.5H961.6zM968.9 646.8H979.9V970.5H968.9zM983.6 741.3H987.3V890.7H983.6zM990.9 706.1H994.6V900.8H990.9zM994.6 646.8H998.3V970.5H994.6zM1023.9 683.1H1027.6V899H1023.9zM1042.3 789.6H1045.9V880.7H1042.3zM1086.3 661.4H1090V820.2H1086.3zM1090 646.8H1093.6V970.5H1090zM1108.3 646.8H1112V970.5H1108.3zM1130.3 646.8H1134V970.5H1130.3zM1141.3 646.8H1145V970.5H1141.3zM1189 793.2H1192.6V967.6H1189zM1251.3 646.8H1255V970.5H1251.3z"/>
<path fill="#fff" opacity="0.025" d="M1295.4 630.8H1299V981.3H1295.4zM1317.4 738.5H1321.1V838.5H1317.4zM1332.1 632.2H1335.8V979.2H1332.1zM1339.4 632.4H1343.1V978.8H1339.4zM1361.5 691.7H1365.1V841.1H1361.5zM1398.2 634.5H1401.8V975.7H1398.2zM1401.8 808.3H1405.5V975.6H1401.8zM1412.9 635H1416.5V975H1412.9zM1423.9 708.1H1427.5V790.2H1423.9zM1445.9 636.2H1449.6V973.2H1445.9zM1460.6 681H1464.3V781.1H1460.6zM1478.9 637.3H1482.6V971.5H1478.9zM1504.6 788.1H1508.3V857.2H1504.6zM1523 638.8H1526.7V970.5H1523zM1548.7 639.6H1552.4V970.5H1548.7zM1556 639.8H1559.7V970.5H1556zM1574.4 640.4H1578.1V970.5H1574.4zM1592.8 641H1596.4V970.5H1592.8zM1666.2 833.7H1669.9V932.8H1666.2zM1673.5 805.2H1677.2V875.9H1673.5zM1710.2 696.4H1713.9V778.8H1710.2zM1732.3 645.4H1735.9V970.5H1732.3zM1754.3 738.5H1758V805.8H1754.3zM1758 672.2H1761.6V881.2H1758zM1761.6 646.3H1765.3V970.5H1761.6zM1816.7 646.8H1820.4V970.5H1816.7zM1831.4 699H1835.1V862.1H1831.4zM1864.4 822.4H1868.1V970.5H1864.4zM1879.1 738.7H1882.8V913.7H1879.1zM1882.8 710.9H1886.5V790.4H1882.8zM1886.5 802.1H1890.1V970.5H1886.5zM1890.1 646.8H1893.8V970.5H1890.1zM1904.8 832.2H1908.5V932.8H1904.8zM1915.8 772.3H1919.5V860.7H1915.8zM1941.5 646.8H1945.2V970.5H1941.5zM2015 707.7H2018.6V829.8H2015zM2040.7 646.8H2044.3V970.5H2040.7zM2125.1 729H2128.8V952.5H2125.1zM2128.8 646.8H2136.1V970.5H2128.8zM2150.8 680.6H2154.5V894.3H2150.8zM2161.8 720.9H2165.5V916H2161.8zM2165.5 646.8H2169.2V970.5H2165.5zM2194.9 646.8H2198.5V970.5H2194.9zM2198.5 696.7H2202.2V885.2H2198.5zM2213.2 646.8H2216.9V970.5H2213.2zM2249.9 646.8H2253.6V970.5H2249.9zM2275.6 646.8H2279.3V970.5H2275.6zM2290.3 646.8H2294V970.5H2290.3zM2323.4 646.8H2327V970.5H2323.4zM2349.1 646.8H2356.4V970.5H2349.1zM2360.1 776.5H2363.7V970.5H2360.1zM2363.7 646.8H2367.4V970.5H2363.7zM2371.1 646.8H2374.8V970.5H2371.1zM2407.8 651.2H2411.5V737.4H2407.8zM2415.1 749H2418.8V898.7H2415.1zM2418.8 778.2H2422.5V908.5H2418.8zM2422.5 719.1H2426.2V945.7H2422.5zM2426.2 661.3H2429.8V815.3H2426.2z"/>
<path fill="#000" opacity="0.045" d="M1266 738.8H1269.7V939.2H1266zM1273.3 629.5H1277V983.9H1273.3zM1284.4 779.5H1288V913.8H1284.4zM1299 631H1302.7V981H1299zM1306.4 674.3H1310.1V770.9H1306.4zM1321.1 631.8H1324.7V979.8H1321.1zM1328.4 632.1H1332.1V979.4H1328.4zM1343.1 632.6H1346.8V978.6H1343.1zM1357.8 778.7H1361.5V977.9H1357.8zM1379.8 633.9H1383.5V976.7H1379.8zM1416.5 790.4H1420.2V885.8H1416.5zM1431.2 635.7H1434.9V974H1431.2zM1467.9 636.9H1471.6V972.1H1467.9zM1490 637.7H1493.6V970.9H1490zM1519.3 733.6H1523V924.3H1519.3zM1526.7 638.9H1530.3V970.5H1526.7zM1530.3 685.1H1534V899.7H1530.3zM1545 639.5H1548.7V970.5H1545zM1567.1 640.2H1570.7V970.5H1567.1zM1581.7 640.6H1585.4V970.5H1581.7zM1596.4 641.1H1600.1V970.5H1596.4zM1644.2 808.8H1647.8V970.5H1644.2zM1688.2 644H1691.9V970.5H1688.2zM1717.6 644.9H1721.3V970.5H1717.6zM1724.9 645.1H1728.6V970.5H1724.9zM1728.6 645.2H1732.3V970.5H1728.6zM1747 709.2H1750.6V894.2H1747zM1769 646.5H1772.7V970.5H1769zM1787.3 646.8H1791V970.5H1787.3zM1791 708.1H1794.7V878.4H1791zM1802 646.8H1805.7V970.5H1802zM1853.4 682.6H1857.1V765.6H1853.4zM1875.4 695.3H1879.1V841.3H1875.4zM1901.1 646.8H1904.8V970.5H1901.1zM1926.8 688H1930.5V893.7H1926.8zM1967.2 646.8H1970.9V970.5H1967.2zM1970.9 748H1974.6V953.6H1970.9zM1978.2 646.8H1981.9V970.5H1978.2zM2022.3 646.8H2026V970.5H2022.3zM2059 803.4H2062.7V935.4H2059zM2084.7 648.1H2088.4V745.4H2084.7zM2088.4 739.3H2092.1V825.4H2088.4zM2099.4 646.8H2103.1V970.5H2099.4zM2103.1 809.6H2106.7V970.5H2103.1zM2110.4 782.1H2114.1V870.5H2110.4zM2147.1 654.4H2150.8V808.4H2147.1zM2158.1 646.8H2161.8V970.5H2158.1zM2176.5 666H2180.2V847.8H2176.5zM2187.5 687.9H2191.2V890.3H2187.5zM2209.5 771.1H2213.2V948.3H2209.5zM2257.3 689.8H2260.9V805H2257.3zM2301.3 757.6H2305V887.8H2301.3zM2334.4 783.8H2338V966.1H2334.4zM2341.7 796H2345.4V964.4H2341.7zM2378.4 675H2382.1V775.3H2378.4z"/>
<rect x="85" y="963.5" width="1181" height="7" fill="#000" opacity="0.10"/>
<path fill="#2a388a"  d="M85 639.4H129V646.8H85zM132.7 639.4H140V646.8H132.7zM143.7 639.4H286.7V646.8H143.7zM290.4 639.4H297.7V646.8H290.4zM301.4 639.4H363.7V646.8H301.4zM367.4 639.4H510.5V646.8H367.4zM514.1 639.4H554.5V646.8H514.1zM558.1 639.4H569.1V646.8H558.1zM572.8 639.4H668.2V646.8H572.8zM671.8 639.4H708.5V646.8H671.8zM712.2 639.4H803.9V646.8H712.2zM803.9 632.1H807.5V646.8H803.9zM807.5 639.4H855.2V646.8H807.5zM855.2 632.1H862.6V646.8H855.2zM862.6 639.4H866.2V646.8H862.6zM869.9 639.4H990.9V646.8H869.9zM990.9 632.1H994.6V646.8H990.9zM994.6 639.4H1053.3V646.8H994.6zM1056.9 639.4H1090V646.8H1056.9zM1093.6 639.4H1104.6V646.8H1093.6zM1108.3 639.4H1266V646.8H1108.3z"/>
<path fill="#1f2b68"  d="M85 970.5H88.7V977.9H85zM103.3 970.5H107V977.9H103.3zM121.7 970.5H125.3V977.9H121.7zM129 970.5H140V977.9H129zM154.7 970.5H162V977.9H154.7zM176.7 970.5H180.4V977.9H176.7zM184 970.5H191.4V977.9H184zM195 970.5H198.7V977.9H195zM272.1 970.5H275.7V977.9H272.1zM283.1 970.5H286.7V977.9H283.1zM290.4 970.5H305.1V977.9H290.4zM312.4 970.5H316.1V977.9H312.4zM330.7 970.5H334.4V977.9H330.7zM338.1 970.5H341.7V977.9H338.1zM356.4 970.5H363.7V977.9H356.4zM367.4 970.5H374.7V977.9H367.4zM378.4 970.5H389.4V977.9H378.4zM393.1 970.5H396.8V977.9H393.1zM404.1 970.5H407.8V977.9H404.1zM426.1 970.5H433.4V977.9H426.1zM448.1 970.5H451.8V977.9H448.1zM462.8 970.5H470.1V977.9H462.8zM473.8 970.5H481.1V977.9H473.8zM495.8 970.5H499.5V977.9H495.8zM506.8 970.5H514.1V977.9H506.8zM517.8 970.5H525.1V977.9H517.8zM550.8 970.5H558.1V977.9H550.8zM561.8 970.5H565.5V977.9H561.8zM572.8 970.5H576.5V977.9H572.8zM587.5 970.5H591.1V977.9H587.5zM594.8 970.5H598.5V977.9H594.8zM602.1 970.5H605.8V977.9H602.1zM609.5 970.5H616.8V977.9H609.5zM620.5 970.5H624.2V977.9H620.5zM642.5 970.5H649.8V977.9H642.5zM679.2 970.5H682.8V977.9H679.2zM690.2 970.5H693.8V977.9H690.2zM712.2 970.5H715.8V977.9H712.2zM730.5 970.5H734.2V977.9H730.5zM752.5 970.5H759.9V977.9H752.5zM778.2 970.5H781.9V977.9H778.2zM785.5 970.5H789.2V977.9H785.5zM807.5 970.5H814.9V977.9H807.5zM818.5 970.5H822.2V977.9H818.5zM829.5 970.5H836.9V977.9H829.5zM840.5 970.5H844.2V977.9H840.5zM851.5 970.5H855.2V977.9H851.5zM862.6 970.5H866.2V977.9H862.6zM869.9 970.5H873.6V977.9H869.9zM877.2 970.5H880.9V977.9H877.2zM884.6 970.5H899.2V977.9H884.6zM906.6 970.5H913.9V977.9H906.6zM943.2 970.5H950.6V977.9H943.2zM961.6 970.5H965.2V977.9H961.6zM976.3 970.5H983.6V977.9H976.3zM987.3 970.5H990.9V977.9H987.3zM1001.9 970.5H1009.3V977.9H1001.9zM1023.9 970.5H1031.3V977.9H1023.9zM1038.6 970.5H1045.9V977.9H1038.6zM1071.6 970.5H1075.3V977.9H1071.6zM1086.3 970.5H1090V977.9H1086.3zM1104.6 970.5H1108.3V977.9H1104.6zM1137.6 970.5H1145V977.9H1137.6zM1159.6 970.5H1163.3V977.9H1159.6zM1170.6 970.5H1178V977.9H1170.6zM1181.6 970.5H1189V977.9H1181.6zM1192.6 970.5H1196.3V977.9H1192.6zM1200 970.5H1203.6V977.9H1200zM1211 970.5H1214.7V977.9H1211zM1222 970.5H1229.3V977.9H1222zM1233 970.5H1240.3V977.9H1233zM1251.3 970.5H1258.7V977.9H1251.3zM1262.3 970.5H1266V977.9H1262.3z"/>
<path fill="#1f2b68"  d="M1266 617.9H1269.7V628.9H1266zM1280.7 610.5H1288V628.9H1280.7zM1288 621.6H1291.7V628.9H1288zM1291.7 603.2H1295.4V628.9H1291.7zM1306.4 617.9H1310.1V632.6H1306.4zM1313.7 617.9H1317.4V632.6H1313.7zM1317.4 606.9H1321.1V632.6H1317.4zM1321.1 625.3H1324.7V632.6H1321.1zM1324.7 610.5H1328.4V632.6H1324.7zM1335.8 625.3H1339.4V632.6H1335.8zM1343.1 599.5H1346.8V632.6H1343.1zM1350.4 625.3H1354.1V632.6H1350.4zM1357.8 614.2H1361.5V632.6H1357.8zM1361.5 621.6H1365.1V632.6H1361.5zM1365.1 625.3H1368.8V632.6H1365.1zM1368.8 617.9H1372.5V632.6H1368.8zM1372.5 614.2H1376.1V632.6H1372.5zM1376.1 625.3H1379.8V632.6H1376.1zM1383.5 617.9H1387.2V632.6H1383.5zM1387.2 606.9H1390.8V632.6H1387.2zM1390.8 614.2H1394.5V632.6H1390.8zM1401.8 621.6H1405.5V636.3H1401.8zM1405.5 628.9H1409.2V636.3H1405.5zM1409.2 625.3H1412.9V636.3H1409.2zM1412.9 617.9H1416.5V636.3H1412.9zM1416.5 628.9H1431.2V636.3H1416.5zM1431.2 625.3H1434.9V636.3H1431.2zM1434.9 614.2H1438.6V636.3H1434.9zM1438.6 625.3H1442.2V636.3H1438.6zM1445.9 617.9H1453.2V636.3H1445.9zM1453.2 625.3H1456.9V636.3H1453.2zM1460.6 628.9H1464.3V636.3H1460.6zM1464.3 625.3H1467.9V636.3H1464.3zM1467.9 628.9H1475.3V636.3H1467.9zM1475.3 606.9H1478.9V636.3H1475.3zM1482.6 628.9H1486.3V636.3H1482.6zM1486.3 614.2H1490V636.3H1486.3zM1490 625.3H1493.6V636.3H1490zM1501 617.9H1504.6V636.3H1501zM1504.6 625.3H1508.3V640H1504.6zM1508.3 614.2H1512V640H1508.3zM1512 632.6H1519.3V640H1512zM1519.3 625.3H1523V640H1519.3zM1523 632.6H1526.7V640H1523zM1526.7 614.2H1534V640H1526.7zM1534 632.6H1545V640H1534zM1548.7 621.6H1552.4V640H1548.7zM1559.7 632.6H1563.4V640H1559.7zM1567.1 632.6H1574.4V640H1567.1zM1585.4 632.6H1589.1V640H1585.4zM1596.4 632.6H1603.8V640H1596.4zM1611.1 632.6H1614.8V640H1611.1zM1622.1 636.3H1625.8V643.6H1622.1zM1625.8 625.3H1629.5V643.6H1625.8zM1633.1 610.5H1636.8V643.6H1633.1zM1640.5 617.9H1644.2V643.6H1640.5zM1644.2 636.3H1651.5V643.6H1644.2zM1655.2 636.3H1666.2V643.6H1655.2zM1666.2 625.3H1669.9V643.6H1666.2zM1669.9 636.3H1673.5V643.6H1669.9zM1673.5 628.9H1677.2V643.6H1673.5zM1680.9 636.3H1684.5V643.6H1680.9zM1688.2 636.3H1691.9V643.6H1688.2zM1695.6 636.3H1713.9V643.6H1695.6zM1717.6 636.3H1728.6V643.6H1717.6zM1732.3 636.3H1735.9V643.6H1732.3zM1739.6 640H1758V647.3H1739.6zM1761.6 640H1765.3V647.3H1761.6zM1765.3 632.6H1769V647.3H1765.3zM1769 628.9H1772.7V647.3H1769zM1772.7 640H1791V647.3H1772.7zM1791 632.6H1794.7V647.3H1791zM1794.7 640H1802V647.3H1794.7zM1802 636.3H1805.7V647.3H1802zM1813 621.6H1816.7V647.3H1813zM1816.7 640H1853.4V647.3H1816.7zM1857.1 640H1860.8V647.3H1857.1zM1864.4 640H1875.4V647.3H1864.4zM1879.1 640H1882.8V647.3H1879.1zM1886.5 640H1890.1V647.3H1886.5zM1890.1 636.3H1893.8V647.3H1890.1zM1897.5 640H1901.1V647.3H1897.5zM1908.5 640H1912.2V647.3H1908.5zM1915.8 640H1923.2V647.3H1915.8zM1930.5 628.9H1934.2V647.3H1930.5zM1934.2 640H1948.9V647.3H1934.2zM1952.5 640H1963.6V647.3H1952.5zM1970.9 636.3H1974.6V647.3H1970.9zM1978.2 640H1981.9V647.3H1978.2zM1985.6 640H1992.9V647.3H1985.6zM2000.3 640H2011.3V647.3H2000.3zM2015 640H2018.6V647.3H2015zM2022.3 640H2026V647.3H2022.3zM2033.3 640H2040.7V647.3H2033.3zM2044.3 640H2048V647.3H2044.3zM2051.7 628.9H2055.3V647.3H2051.7zM2055.3 640H2062.7V647.3H2055.3zM2070 640H2077.4V647.3H2070zM2084.7 640H2088.4V647.3H2084.7zM2092.1 636.3H2095.7V647.3H2092.1zM2099.4 640H2103.1V647.3H2099.4zM2110.4 640H2117.8V647.3H2110.4zM2117.8 628.9H2121.4V647.3H2117.8zM2121.4 640H2128.8V647.3H2121.4zM2128.8 632.6H2132.4V647.3H2128.8zM2136.1 640H2143.5V647.3H2136.1zM2143.5 632.6H2147.1V647.3H2143.5zM2150.8 632.6H2154.5V647.3H2150.8zM2154.5 640H2158.1V647.3H2154.5zM2161.8 640H2165.5V647.3H2161.8zM2169.2 640H2172.8V647.3H2169.2zM2180.2 640H2187.5V647.3H2180.2zM2191.2 640H2198.5V647.3H2191.2zM2198.5 632.6H2202.2V647.3H2198.5zM2202.2 640H2216.9V647.3H2202.2zM2216.9 628.9H2220.6V647.3H2216.9zM2220.6 640H2227.9V647.3H2220.6zM2227.9 632.6H2231.6V647.3H2227.9zM2235.2 640H2260.9V647.3H2235.2zM2264.6 640H2283V647.3H2264.6zM2286.6 640H2312.3V647.3H2286.6zM2316 640H2319.7V647.3H2316zM2323.4 628.9H2327V647.3H2323.4zM2327 640H2330.7V647.3H2327zM2330.7 632.6H2334.4V647.3H2330.7zM2334.4 640H2345.4V647.3H2334.4zM2349.1 640H2352.7V647.3H2349.1zM2352.7 617.9H2356.4V647.3H2352.7zM2356.4 640H2363.7V647.3H2356.4zM2367.4 636.3H2371.1V647.3H2367.4zM2371.1 640H2374.8V647.3H2371.1zM2378.4 640H2389.4V647.3H2378.4zM2396.8 640H2407.8V647.3H2396.8zM2415.1 640H2433.5V647.3H2415.1z"/>
<path fill="#1f2b68"  d="M1284.4 982H1288V993.1H1284.4zM1288 982H1299V989.4H1288zM1302.7 982H1306.4V1004.1H1302.7zM1306.4 982H1313.7V993.1H1306.4zM1313.7 978.3H1317.4V985.7H1313.7zM1317.4 978.3H1321.1V989.4H1317.4zM1321.1 978.3H1324.7V985.7H1321.1zM1332.1 978.3H1335.8V993.1H1332.1zM1339.4 978.3H1346.8V985.7H1339.4zM1350.4 978.3H1354.1V993.1H1350.4zM1354.1 978.3H1357.8V985.7H1354.1zM1357.8 978.3H1361.5V993.1H1357.8zM1361.5 978.3H1365.1V985.7H1361.5zM1365.1 978.3H1368.8V993.1H1365.1zM1379.8 978.3H1383.5V1000.4H1379.8zM1390.8 974.7H1398.2V982H1390.8zM1398.2 974.7H1401.8V1000.4H1398.2zM1401.8 974.7H1405.5V982H1401.8zM1405.5 974.7H1409.2V985.7H1405.5zM1409.2 974.7H1412.9V989.4H1409.2zM1420.2 974.7H1423.9V982H1420.2zM1427.5 974.7H1431.2V985.7H1427.5zM1431.2 974.7H1434.9V982H1431.2zM1434.9 974.7H1438.6V1004.1H1434.9zM1438.6 974.7H1442.2V1000.4H1438.6zM1453.2 974.7H1456.9V996.7H1453.2zM1456.9 971H1460.6V985.7H1456.9zM1467.9 971H1471.6V985.7H1467.9zM1490 971H1493.6V978.3H1490zM1501 971H1504.6V978.3H1501zM1519.3 971H1523V1000.4H1519.3zM1523 971H1526.7V978.3H1523zM1534 971H1541.4V978.3H1534zM1552.4 971H1556V978.3H1552.4zM1559.7 971H1567.1V978.3H1559.7zM1567.1 971H1570.7V985.7H1567.1zM1574.4 971H1578.1V978.3H1574.4zM1581.7 971H1589.1V978.3H1581.7zM1596.4 971H1600.1V978.3H1596.4zM1603.8 971H1611.1V978.3H1603.8zM1622.1 971H1629.5V985.7H1622.1zM1629.5 971H1633.1V978.3H1629.5zM1636.8 971H1640.5V978.3H1636.8zM1644.2 971H1651.5V978.3H1644.2zM1658.8 971H1662.5V989.4H1658.8zM1662.5 971H1666.2V978.3H1662.5zM1673.5 971H1677.2V978.3H1673.5zM1688.2 971H1691.9V989.4H1688.2zM1691.9 971H1695.6V978.3H1691.9zM1699.2 971H1710.2V978.3H1699.2zM1717.6 971H1721.3V978.3H1717.6zM1728.6 971H1732.3V978.3H1728.6zM1735.9 971H1739.6V978.3H1735.9zM1743.3 971H1758V978.3H1743.3zM1761.6 971H1780V978.3H1761.6zM1787.3 971H1791V978.3H1787.3zM1802 971H1816.7V978.3H1802zM1831.4 971H1835.1V978.3H1831.4zM1838.7 971H1846.1V978.3H1838.7zM1849.8 971H1860.8V978.3H1849.8zM1868.1 971H1879.1V978.3H1868.1zM1882.8 971H1897.5V978.3H1882.8zM1901.1 971H1908.5V978.3H1901.1zM1912.2 971H1915.8V985.7H1912.2zM1926.8 971H1930.5V978.3H1926.8zM1934.2 971H1956.2V978.3H1934.2zM1959.9 971H1978.2V978.3H1959.9zM1989.3 971H1992.9V978.3H1989.3zM2000.3 971H2003.9V978.3H2000.3zM2007.6 971H2015V978.3H2007.6zM2018.6 971H2026V978.3H2018.6zM2029.6 971H2033.3V978.3H2029.6zM2037 971H2040.7V982H2037zM2040.7 971H2062.7V978.3H2040.7zM2073.7 971H2077.4V978.3H2073.7zM2084.7 971H2099.4V978.3H2084.7zM2103.1 971H2106.7V978.3H2103.1zM2110.4 971H2114.1V978.3H2110.4zM2121.4 971H2154.5V978.3H2121.4zM2154.5 971H2158.1V996.7H2154.5zM2165.5 971H2180.2V978.3H2165.5zM2183.8 971H2187.5V978.3H2183.8zM2202.2 971H2205.9V978.3H2202.2zM2209.5 971H2213.2V978.3H2209.5zM2216.9 971H2227.9V978.3H2216.9zM2231.6 971H2235.2V982H2231.6zM2242.6 971H2246.3V985.7H2242.6zM2246.3 971H2253.6V978.3H2246.3zM2257.3 971H2264.6V978.3H2257.3zM2279.3 971H2286.6V978.3H2279.3zM2286.6 971H2290.3V985.7H2286.6zM2294 971H2297.7V978.3H2294zM2305 971H2316V978.3H2305zM2319.7 971H2323.4V989.4H2319.7zM2327 971H2330.7V978.3H2327zM2334.4 971H2338V978.3H2334.4zM2345.4 971H2349.1V978.3H2345.4zM2356.4 971H2360.1V978.3H2356.4zM2363.7 971H2371.1V978.3H2363.7zM2371.1 971H2374.8V985.7H2371.1zM2374.8 971H2385.8V978.3H2374.8zM2396.8 971H2400.5V978.3H2396.8zM2407.8 971H2411.5V978.3H2407.8zM2415.1 971H2426.2V978.3H2415.1zM2429.8 971H2433.5V989.4H2429.8z"/>
<rect x="1266" y="544" width="3.7" height="500" fill="#1f2b68"/>
<rect x="1269.7" y="610" width="3.7" height="400" fill="#354ba0"/>
<rect x="85" y="1124.5" width="1177" height="7.4" fill="#a86400"/>
<rect x="85" y="1131.8" width="1177" height="7.4" fill="#f09000"/>
<rect x="85" y="1139.1" width="1177" height="7.5" fill="#d08000"/>
<path fill="#fff" opacity="0.08" d="M118 1124.5H121.7V1131.8H118zM151 1124.5H158.3V1131.8H151zM162 1124.5H165.7V1131.8H162zM173 1124.5H176.7V1131.8H173zM180.3 1124.5H184V1131.8H180.3zM198.7 1124.5H202.3V1131.8H198.7zM220.7 1124.5H224.3V1131.8H220.7zM231.7 1124.5H235.3V1131.8H231.7zM239 1124.5H242.7V1131.8H239zM250 1124.5H253.7V1131.8H250zM275.7 1124.5H279.3V1131.8H275.7zM283 1124.5H286.7V1131.8H283zM297.7 1124.5H301.3V1131.8H297.7zM323.3 1124.5H327V1131.8H323.3zM330.7 1124.5H334.3V1131.8H330.7zM338 1124.5H341.7V1131.8H338zM349 1124.5H356.3V1131.8H349zM374.7 1124.5H378.3V1131.8H374.7zM385.7 1124.5H389.3V1131.8H385.7zM396.7 1124.5H400.3V1131.8H396.7zM422.3 1124.5H426V1131.8H422.3zM440.7 1124.5H444.3V1131.8H440.7zM448 1124.5H459V1131.8H448zM481 1124.5H484.7V1131.8H481zM495.7 1124.5H499.3V1131.8H495.7zM510.3 1124.5H514V1131.8H510.3zM536 1124.5H539.7V1131.8H536zM580 1124.5H583.7V1131.8H580zM591 1124.5H594.7V1131.8H591zM598.3 1124.5H602V1131.8H598.3zM616.7 1124.5H620.3V1131.8H616.7zM627.7 1124.5H631.3V1131.8H627.7zM635 1124.5H642.3V1131.8H635zM649.7 1124.5H653.3V1131.8H649.7zM660.7 1124.5H668V1131.8H660.7zM679 1124.5H682.7V1131.8H679zM690 1124.5H693.7V1131.8H690zM704.7 1124.5H708.3V1131.8H704.7zM712 1124.5H723V1131.8H712zM726.7 1124.5H730.3V1131.8H726.7zM734 1124.5H737.7V1131.8H734zM741.3 1124.5H745V1131.8H741.3zM770.7 1124.5H774.3V1131.8H770.7zM778 1124.5H781.7V1131.8H778zM785.3 1124.5H789V1131.8H785.3zM803.7 1124.5H807.3V1131.8H803.7zM844 1124.5H847.7V1131.8H844zM869.7 1124.5H873.3V1131.8H869.7zM877 1124.5H880.7V1131.8H877zM902.7 1124.5H906.3V1131.8H902.7zM935.7 1124.5H943V1131.8H935.7zM954 1124.5H957.7V1131.8H954zM968.7 1124.5H979.7V1131.8H968.7zM994.3 1124.5H998V1131.8H994.3zM1001.7 1124.5H1005.3V1131.8H1001.7zM1009 1124.5H1012.7V1131.8H1009zM1020 1124.5H1027.3V1131.8H1020zM1071.3 1124.5H1075V1131.8H1071.3zM1104.3 1124.5H1108V1131.8H1104.3zM1148.3 1124.5H1152V1131.8H1148.3zM1163 1124.5H1166.7V1131.8H1163zM1170.3 1124.5H1174V1131.8H1170.3zM1177.7 1124.5H1181.3V1131.8H1177.7zM1185 1124.5H1188.7V1131.8H1185zM1196 1124.5H1199.7V1131.8H1196zM1210.7 1124.5H1214.3V1131.8H1210.7zM1232.7 1124.5H1236.3V1131.8H1232.7zM1251 1124.5H1254.7V1131.8H1251z"/>
<path fill="#000" opacity="0.1" d="M96 1124.5H99.7V1131.8H96zM103.3 1124.5H110.7V1131.8H103.3zM125.3 1124.5H129V1131.8H125.3zM132.7 1124.5H136.3V1131.8H132.7zM140 1124.5H151V1131.8H140zM165.7 1124.5H169.3V1131.8H165.7zM187.7 1124.5H191.3V1131.8H187.7zM224.3 1124.5H228V1131.8H224.3zM246.3 1124.5H250V1131.8H246.3zM279.3 1124.5H283V1131.8H279.3zM290.3 1124.5H294V1131.8H290.3zM301.3 1124.5H305V1131.8H301.3zM312.3 1124.5H319.7V1131.8H312.3zM363.7 1124.5H367.3V1131.8H363.7zM382 1124.5H385.7V1131.8H382zM400.3 1124.5H404V1131.8H400.3zM407.7 1124.5H415V1131.8H407.7zM426 1124.5H433.3V1131.8H426zM459 1124.5H462.7V1131.8H459zM470 1124.5H473.7V1131.8H470zM488.3 1124.5H492V1131.8H488.3zM514 1124.5H517.7V1131.8H514zM550.7 1124.5H558V1131.8H550.7zM561.7 1124.5H569V1131.8H561.7zM576.3 1124.5H580V1131.8H576.3zM587.3 1124.5H591V1131.8H587.3zM594.7 1124.5H598.3V1131.8H594.7zM620.3 1124.5H624V1131.8H620.3zM631.3 1124.5H635V1131.8H631.3zM642.3 1124.5H646V1131.8H642.3zM657 1124.5H660.7V1131.8H657zM671.7 1124.5H675.3V1131.8H671.7zM682.7 1124.5H686.3V1131.8H682.7zM730.3 1124.5H734V1131.8H730.3zM752.3 1124.5H756V1131.8H752.3zM759.7 1124.5H763.3V1131.8H759.7zM781.7 1124.5H785.3V1131.8H781.7zM789 1124.5H792.7V1131.8H789zM800 1124.5H803.7V1131.8H800zM807.3 1124.5H811V1131.8H807.3zM847.7 1124.5H851.3V1131.8H847.7zM866 1124.5H869.7V1131.8H866zM880.7 1124.5H891.7V1131.8H880.7zM950.3 1124.5H954V1131.8H950.3zM957.7 1124.5H961.3V1131.8H957.7zM983.3 1124.5H987V1131.8H983.3zM990.7 1124.5H994.3V1131.8H990.7zM998 1124.5H1001.7V1131.8H998zM1012.7 1124.5H1020V1131.8H1012.7zM1034.7 1124.5H1038.3V1131.8H1034.7zM1082.3 1124.5H1086V1131.8H1082.3zM1089.7 1124.5H1097V1131.8H1089.7zM1119 1124.5H1122.7V1131.8H1119zM1166.7 1124.5H1170.3V1131.8H1166.7zM1188.7 1124.5H1192.3V1131.8H1188.7zM1203.3 1124.5H1207V1131.8H1203.3zM1218 1124.5H1221.7V1131.8H1218zM1225.3 1124.5H1229V1131.8H1225.3zM1258.3 1124.5H1262V1131.8H1258.3z"/>
<path fill="#5e3800"  d="M88.7 1117.1H92.3V1124.5H88.7zM125.3 1117.1H129V1124.5H125.3zM151 1117.1H154.7V1124.5H151zM165.7 1117.1H169.3V1124.5H165.7zM195 1117.1H198.7V1124.5H195zM206 1117.1H209.7V1124.5H206zM213.3 1117.1H217V1124.5H213.3zM220.7 1117.1H224.3V1124.5H220.7zM268.3 1117.1H272V1124.5H268.3zM286.7 1117.1H290.3V1124.5H286.7zM462.7 1117.1H466.3V1124.5H462.7zM547 1117.1H550.7V1124.5H547zM602 1117.1H609.3V1124.5H602zM631.3 1117.1H635V1124.5H631.3zM649.7 1117.1H653.3V1124.5H649.7zM668 1117.1H671.7V1124.5H668zM682.7 1117.1H686.3V1124.5H682.7zM800 1117.1H803.7V1124.5H800zM818.3 1117.1H822V1124.5H818.3zM829.3 1117.1H833V1124.5H829.3zM913.7 1117.1H917.3V1124.5H913.7zM928.3 1117.1H932V1124.5H928.3zM990.7 1117.1H994.3V1124.5H990.7zM1005.3 1117.1H1012.7V1124.5H1005.3zM1016.3 1117.1H1023.7V1124.5H1016.3zM1027.3 1117.1H1031V1124.5H1027.3zM1071.3 1117.1H1078.7V1124.5H1071.3zM1130 1117.1H1133.7V1124.5H1130zM1188.7 1117.1H1199.7V1124.5H1188.7zM1229 1117.1H1236.3V1124.5H1229zM1247.3 1117.1H1251V1124.5H1247.3z"/>
<path fill="#5e3800"  d="M96 1146.6H99.7V1154H96zM121.7 1146.6H132.7V1154H121.7zM136.3 1146.6H140V1154H136.3zM162 1146.6H176.7V1154H162zM184 1146.6H187.7V1154H184zM198.7 1146.6H206V1154H198.7zM213.3 1146.6H231.7V1154H213.3zM242.7 1146.6H250V1154H242.7zM253.7 1146.6H257.3V1154H253.7zM264.7 1146.6H268.3V1154H264.7zM272 1146.6H279.3V1154H272zM286.7 1146.6H294V1154H286.7zM297.7 1146.6H338V1154H297.7zM349 1146.6H352.7V1154H349zM360 1146.6H367.3V1154H360zM374.7 1146.6H382V1154H374.7zM389.3 1146.6H396.7V1154H389.3zM411.3 1146.6H418.7V1154H411.3zM429.7 1146.6H433.3V1154H429.7zM440.7 1146.6H448V1154H440.7zM451.7 1146.6H462.7V1154H451.7zM466.3 1146.6H495.7V1154H466.3zM499.3 1146.6H503V1154H499.3zM510.3 1146.6H514V1154H510.3zM517.7 1146.6H528.7V1154H517.7zM543.3 1146.6H550.7V1154H543.3zM561.7 1146.6H569V1154H561.7zM572.7 1146.6H576.3V1154H572.7zM591 1146.6H602V1154H591zM609.3 1146.6H613V1154H609.3zM620.3 1146.6H627.7V1154H620.3zM631.3 1146.6H638.7V1154H631.3zM646 1146.6H649.7V1154H646zM653.3 1146.6H660.7V1154H653.3zM664.3 1146.6H668V1154H664.3zM671.7 1146.6H675.3V1154H671.7zM679 1146.6H682.7V1154H679zM690 1146.6H697.3V1154H690zM701 1146.6H704.7V1154H701zM708.3 1146.6H723V1154H708.3zM726.7 1146.6H737.7V1154H726.7zM752.3 1146.6H759.7V1154H752.3zM778 1146.6H785.3V1154H778zM796.3 1146.6H800V1154H796.3zM803.7 1146.6H807.3V1154H803.7zM814.7 1146.6H836.7V1154H814.7zM844 1146.6H847.7V1154H844zM866 1146.6H873.3V1154H866zM877 1146.6H888V1154H877zM891.7 1146.6H899V1154H891.7zM902.7 1146.6H910V1154H902.7zM913.7 1146.6H917.3V1154H913.7zM921 1146.6H946.7V1154H921zM950.3 1146.6H954V1154H950.3zM957.7 1146.6H994.3V1154H957.7zM998 1146.6H1005.3V1154H998zM1009 1146.6H1020V1154H1009zM1023.7 1146.6H1031V1154H1023.7zM1045.7 1146.6H1053V1154H1045.7zM1056.7 1146.6H1060.3V1154H1056.7zM1078.7 1146.6H1082.3V1154H1078.7zM1086 1146.6H1089.7V1154H1086zM1093.3 1146.6H1097V1154H1093.3zM1104.3 1146.6H1119V1154H1104.3zM1122.7 1146.6H1130V1154H1122.7zM1133.7 1146.6H1137.3V1154H1133.7zM1141 1146.6H1152V1154H1141zM1155.7 1146.6H1166.7V1154H1155.7zM1177.7 1146.6H1181.3V1154H1177.7zM1185 1146.6H1192.3V1154H1185zM1196 1146.6H1199.7V1154H1196zM1203.3 1146.6H1207V1154H1203.3zM1210.7 1146.6H1214.3V1154H1210.7zM1221.7 1146.6H1229V1154H1221.7zM1232.7 1146.6H1243.7V1154H1232.7zM1247.3 1146.6H1258.3V1154H1247.3z"/>
</g>
<g shape-rendering="crispEdges">
<path fill="#a86400"  d="M1262 1129.2H1265.7V1151.2H1262zM1265.7 1125.5H1269.3V1151.2H1265.7zM1269.3 1118.1H1273V1147.5H1269.3zM1273 1110.8H1276.7V1140.1H1273zM1276.7 1103.4H1280.4V1132.8H1276.7zM1280.4 1092.4H1284V1125.4H1280.4zM1284 1081.4H1287.7V1114.4H1284zM1287.7 1074H1291.4V1103.4H1287.7zM1291.4 1066.7H1295.1V1096H1291.4zM1295.1 1063H1298.8V1088.7H1295.1zM1298.8 1059.3H1302.4V1085H1298.8zM1302.4 1059.3H1309.8V1081.3H1302.4zM1309.8 1059.3H1313.5V1088.7H1309.8zM1313.5 1066.7H1317.1V1092.3H1313.5zM1317.1 1070.3H1320.8V1099.7H1317.1zM1320.8 1077.7H1324.5V1103.4H1320.8zM1324.5 1081.4H1328.2V1107H1324.5zM1328.2 1085H1331.8V1110.7H1328.2zM1331.8 1088.7H1398V1110.7H1331.8zM1398 1088.7H1401.7V1114.4H1398zM1401.7 1092.4H1405.3V1114.4H1401.7zM1405.3 1092.4H1409V1118.1H1405.3zM1409 1096.1H1412.7V1118.1H1409zM1412.7 1096.1H1416.3V1121.8H1412.7zM1416.3 1099.8H1478.8V1121.8H1416.3zM1478.8 1099.8H1482.5V1125.4H1478.8zM1482.5 1103.4H1530.3V1125.4H1482.5zM1530.3 1103.4H1534V1129.1H1530.3zM1534 1107.1H1537.6V1129.1H1534zM1537.6 1107.1H1541.3V1132.8H1537.6zM1541.3 1110.8H1556V1132.8H1541.3z"/>
<path fill="#f09000"  d="M1262 1136.2H1265.7V1147.7H1262zM1265.7 1132.5H1269.3V1147.7H1265.7zM1269.3 1125.1H1273V1144H1269.3zM1273 1117.8H1276.7V1136.6H1273zM1276.7 1110.4H1280.4V1129.3H1276.7zM1280.4 1099.4H1284V1121.9H1280.4zM1284 1088.4H1287.7V1110.9H1284zM1287.7 1081H1291.4V1099.9H1287.7zM1291.4 1073.7H1295.1V1092.5H1291.4zM1295.1 1070H1298.8V1085.2H1295.1zM1298.8 1066.3H1302.4V1081.5H1298.8zM1302.4 1066.3H1309.8V1077.8H1302.4zM1309.8 1066.3H1313.5V1085.2H1309.8zM1313.5 1073.7H1317.1V1088.8H1313.5zM1317.1 1077.3H1320.8V1096.2H1317.1zM1320.8 1084.7H1324.5V1099.9H1320.8zM1324.5 1088.4H1328.2V1103.5H1324.5zM1328.2 1092H1331.8V1107.2H1328.2zM1331.8 1095.7H1398V1107.2H1331.8zM1398 1095.7H1401.7V1110.9H1398zM1401.7 1099.4H1405.3V1110.9H1401.7zM1405.3 1099.4H1409V1114.6H1405.3zM1409 1103.1H1412.7V1114.6H1409zM1412.7 1103.1H1416.3V1118.3H1412.7zM1416.3 1106.8H1478.8V1118.3H1416.3zM1478.8 1106.8H1482.5V1121.9H1478.8zM1482.5 1110.4H1530.3V1121.9H1482.5zM1530.3 1110.4H1534V1125.6H1530.3zM1534 1114.1H1537.6V1125.6H1534zM1537.6 1114.1H1541.3V1129.3H1537.6zM1541.3 1117.8H1556V1129.3H1541.3z"/>
</g>
<g shape-rendering="crispEdges">
<rect x="1556" y="1110.6" width="877.5" height="7.4" fill="#a86400"/>
<rect x="1556" y="1118" width="877.5" height="11.4" fill="#f09000"/>
<path fill="#fff" opacity="0.08" d="M1567 1110.6H1570.7V1118H1567zM1581.7 1110.6H1589V1118H1581.7zM1592.7 1110.6H1596.4V1118H1592.7zM1658.8 1110.6H1662.5V1118H1658.8zM1666.1 1110.6H1669.8V1118H1666.1zM1673.5 1110.6H1677.2V1118H1673.5zM1684.5 1110.6H1688.2V1118H1684.5zM1702.9 1110.6H1706.5V1118H1702.9zM1710.2 1110.6H1713.9V1118H1710.2zM1746.9 1110.6H1757.9V1118H1746.9zM1772.6 1110.6H1776.3V1118H1772.6zM1780 1110.6H1783.6V1118H1780zM1809.3 1110.6H1816.7V1118H1809.3zM1824 1110.6H1827.7V1118H1824zM1831.4 1110.6H1835V1118H1831.4zM1842.4 1110.6H1846.1V1118H1842.4zM1849.7 1110.6H1853.4V1118H1849.7zM1857.1 1110.6H1860.7V1118H1857.1zM1879.1 1110.6H1882.8V1118H1879.1zM1890.1 1110.6H1901.1V1118H1890.1zM1919.5 1110.6H1923.2V1118H1919.5zM1930.5 1110.6H1934.2V1118H1930.5zM1952.5 1110.6H1956.2V1118H1952.5zM1978.2 1110.6H1996.6V1118H1978.2zM2011.3 1110.6H2014.9V1118H2011.3zM2026 1110.6H2029.6V1118H2026zM2037 1110.6H2040.6V1118H2037zM2092 1110.6H2095.7V1118H2092zM2103.1 1110.6H2106.7V1118H2103.1zM2110.4 1110.6H2114.1V1118H2110.4zM2125.1 1110.6H2128.8V1118H2125.1zM2136.1 1110.6H2139.8V1118H2136.1zM2154.5 1110.6H2158.1V1118H2154.5zM2165.5 1110.6H2169.1V1118H2165.5zM2249.9 1110.6H2253.6V1118H2249.9zM2272 1110.6H2275.6V1118H2272zM2305 1110.6H2308.7V1118H2305zM2330.7 1110.6H2338V1118H2330.7zM2341.7 1110.6H2349.1V1118H2341.7zM2363.7 1110.6H2367.4V1118H2363.7zM2371.1 1110.6H2374.8V1118H2371.1zM2385.8 1110.6H2389.4V1118H2385.8zM2396.8 1110.6H2400.5V1118H2396.8zM2418.8 1110.6H2422.5V1118H2418.8zM2426.2 1110.6H2429.8V1118H2426.2z"/>
<path fill="#000" opacity="0.1" d="M1559.7 1110.6H1567V1118H1559.7zM1607.4 1110.6H1611.1V1118H1607.4zM1618.4 1110.6H1622.1V1118H1618.4zM1655.1 1110.6H1658.8V1118H1655.1zM1680.8 1110.6H1684.5V1118H1680.8zM1691.8 1110.6H1695.5V1118H1691.8zM1706.5 1110.6H1710.2V1118H1706.5zM1713.9 1110.6H1717.5V1118H1713.9zM1721.2 1110.6H1724.9V1118H1721.2zM1728.6 1110.6H1732.2V1118H1728.6zM1739.6 1110.6H1743.2V1118H1739.6zM1791 1110.6H1794.7V1118H1791zM1802 1110.6H1809.3V1118H1802zM1835 1110.6H1838.7V1118H1835zM1871.8 1110.6H1875.4V1118H1871.8zM1901.1 1110.6H1904.8V1118H1901.1zM1912.1 1110.6H1915.8V1118H1912.1zM1926.8 1110.6H1930.5V1118H1926.8zM1956.2 1110.6H1959.9V1118H1956.2zM1970.9 1110.6H1978.2V1118H1970.9zM2018.6 1110.6H2022.3V1118H2018.6zM2029.6 1110.6H2033.3V1118H2029.6zM2040.6 1110.6H2044.3V1118H2040.6zM2059 1110.6H2066.3V1118H2059zM2084.7 1110.6H2092V1118H2084.7zM2095.7 1110.6H2103.1V1118H2095.7zM2106.7 1110.6H2110.4V1118H2106.7zM2114.1 1110.6H2117.7V1118H2114.1zM2132.4 1110.6H2136.1V1118H2132.4zM2139.8 1110.6H2143.4V1118H2139.8zM2147.1 1110.6H2150.8V1118H2147.1zM2191.2 1110.6H2194.8V1118H2191.2zM2198.5 1110.6H2202.2V1118H2198.5zM2216.9 1110.6H2224.2V1118H2216.9zM2227.9 1110.6H2242.6V1118H2227.9zM2268.3 1110.6H2272V1118H2268.3zM2275.6 1110.6H2279.3V1118H2275.6zM2297.7 1110.6H2301.3V1118H2297.7zM2312.3 1110.6H2319.7V1118H2312.3zM2356.4 1110.6H2363.7V1118H2356.4zM2367.4 1110.6H2371.1V1118H2367.4zM2382.1 1110.6H2385.8V1118H2382.1zM2411.5 1110.6H2418.8V1118H2411.5z"/>
<path fill="#5e3800"  d="M1559.7 1103.2H1563.3V1110.6H1559.7zM1570.7 1103.2H1574.4V1110.6H1570.7zM1629.4 1103.2H1633.1V1110.6H1629.4zM1651.5 1103.2H1655.1V1110.6H1651.5zM1669.8 1103.2H1673.5V1110.6H1669.8zM1684.5 1103.2H1688.2V1110.6H1684.5zM1728.6 1103.2H1732.2V1110.6H1728.6zM1746.9 1103.2H1750.6V1110.6H1746.9zM1820.4 1103.2H1824V1110.6H1820.4zM1857.1 1103.2H1860.7V1110.6H1857.1zM1886.4 1103.2H1890.1V1110.6H1886.4zM1904.8 1103.2H1908.5V1110.6H1904.8zM1926.8 1103.2H1930.5V1110.6H1926.8zM1934.2 1103.2H1937.8V1110.6H1934.2zM1956.2 1103.2H1963.5V1110.6H1956.2zM1985.6 1103.2H1992.9V1110.6H1985.6zM2007.6 1103.2H2011.3V1110.6H2007.6zM2018.6 1103.2H2022.3V1110.6H2018.6zM2055.3 1103.2H2059V1110.6H2055.3zM2095.7 1103.2H2099.4V1110.6H2095.7zM2114.1 1103.2H2117.7V1110.6H2114.1zM2136.1 1103.2H2139.8V1110.6H2136.1zM2147.1 1103.2H2150.8V1110.6H2147.1zM2183.8 1103.2H2191.2V1110.6H2183.8zM2202.2 1103.2H2209.5V1110.6H2202.2zM2216.9 1103.2H2220.6V1110.6H2216.9zM2227.9 1103.2H2235.2V1110.6H2227.9zM2283 1103.2H2286.6V1110.6H2283zM2360.1 1103.2H2363.7V1110.6H2360.1zM2400.5 1103.2H2404.1V1110.6H2400.5zM2411.5 1103.2H2415.1V1110.6H2411.5z"/>
<path fill="#5e3800"  d="M1556 1129.4H1563.3V1136.8H1556zM1567 1129.4H1570.7V1136.8H1567zM1574.4 1129.4H1578V1136.8H1574.4zM1581.7 1129.4H1600.1V1136.8H1581.7zM1607.4 1129.4H1629.4V1136.8H1607.4zM1633.1 1129.4H1636.8V1136.8H1633.1zM1644.1 1129.4H1647.8V1136.8H1644.1zM1662.5 1129.4H1666.1V1136.8H1662.5zM1669.8 1129.4H1673.5V1136.8H1669.8zM1680.8 1129.4H1688.2V1136.8H1680.8zM1691.8 1129.4H1695.5V1136.8H1691.8zM1702.9 1129.4H1713.9V1136.8H1702.9zM1721.2 1129.4H1724.9V1136.8H1721.2zM1728.6 1129.4H1732.2V1136.8H1728.6zM1739.6 1129.4H1743.2V1136.8H1739.6zM1750.6 1129.4H1761.6V1136.8H1750.6zM1765.3 1129.4H1768.9V1136.8H1765.3zM1772.6 1129.4H1776.3V1136.8H1772.6zM1780 1129.4H1791V1136.8H1780zM1794.7 1129.4H1798.3V1136.8H1794.7zM1802 1129.4H1805.7V1136.8H1802zM1813 1129.4H1816.7V1136.8H1813zM1820.4 1129.4H1824V1136.8H1820.4zM1827.7 1129.4H1831.4V1136.8H1827.7zM1835 1129.4H1838.7V1136.8H1835zM1842.4 1129.4H1846.1V1136.8H1842.4zM1857.1 1129.4H1860.7V1136.8H1857.1zM1882.8 1129.4H1893.8V1136.8H1882.8zM1897.5 1129.4H1901.1V1136.8H1897.5zM1904.8 1129.4H1930.5V1136.8H1904.8zM1937.8 1129.4H1941.5V1136.8H1937.8zM1945.2 1129.4H1948.9V1136.8H1945.2zM1959.9 1129.4H1970.9V1136.8H1959.9zM1974.6 1129.4H1978.2V1136.8H1974.6zM1989.2 1129.4H2000.3V1136.8H1989.2zM2007.6 1129.4H2011.3V1136.8H2007.6zM2014.9 1129.4H2018.6V1136.8H2014.9zM2022.3 1129.4H2026V1136.8H2022.3zM2029.6 1129.4H2037V1136.8H2029.6zM2059 1129.4H2062.7V1136.8H2059zM2073.7 1129.4H2088.4V1136.8H2073.7zM2095.7 1129.4H2099.4V1136.8H2095.7zM2103.1 1129.4H2106.7V1136.8H2103.1zM2110.4 1129.4H2117.7V1136.8H2110.4zM2121.4 1129.4H2125.1V1136.8H2121.4zM2128.8 1129.4H2132.4V1136.8H2128.8zM2139.8 1129.4H2143.4V1136.8H2139.8zM2147.1 1129.4H2150.8V1136.8H2147.1zM2154.5 1129.4H2165.5V1136.8H2154.5zM2172.8 1129.4H2176.5V1136.8H2172.8zM2183.8 1129.4H2187.5V1136.8H2183.8zM2194.8 1129.4H2205.9V1136.8H2194.8zM2209.5 1129.4H2213.2V1136.8H2209.5zM2220.6 1129.4H2224.2V1136.8H2220.6zM2227.9 1129.4H2231.6V1136.8H2227.9zM2235.2 1129.4H2238.9V1136.8H2235.2zM2249.9 1129.4H2253.6V1136.8H2249.9zM2257.3 1129.4H2264.6V1136.8H2257.3zM2268.3 1129.4H2275.6V1136.8H2268.3zM2283 1129.4H2305V1136.8H2283zM2312.3 1129.4H2327V1136.8H2312.3zM2330.7 1129.4H2334.4V1136.8H2330.7zM2349.1 1129.4H2352.7V1136.8H2349.1zM2371.1 1129.4H2382.1V1136.8H2371.1zM2385.8 1129.4H2389.4V1136.8H2385.8zM2396.8 1129.4H2400.5V1136.8H2396.8zM2404.1 1129.4H2407.8V1136.8H2404.1zM2411.5 1129.4H2415.1V1136.8H2411.5zM2426.2 1129.4H2429.8V1136.8H2426.2z"/>
<path fill="#5e3800"  d="M1346.1 1109H1357.2V1112.7H1346.1zM1360.9 1109H1364.6V1112.7H1360.9zM1372.1 1109H1375.8V1112.7H1372.1zM1379.5 1109H1383.2V1112.7H1379.5z"/>
<path fill="#5e3800"  d="M1423.7 1124H1431.1V1127.7H1423.7zM1442.2 1124H1445.9V1127.7H1442.2zM1471.9 1124H1475.6V1127.7H1471.9zM1483 1124H1486.7V1127.7H1483zM1497.8 1124H1501.5V1127.7H1497.8z"/>
<path fill="#5e3800"  d="M1468.1 1094.1H1475.6V1101.5H1468.1z"/>
</g>
<path fill="#22bb00" shape-rendering="crispEdges" d="M25.5 209.3H29.2V213H25.5zM29.2 209.3H32.9V213H29.2zM32.9 209.3H36.6V213H32.9zM21.8 213H25.5V216.6H21.8zM36.6 213H40.3V216.6H36.6zM36.6 216.6H40.3V220.3H36.6zM36.6 220.3H40.3V224H36.6zM32.9 224H36.6V227.7H32.9zM29.2 227.7H32.9V231.3H29.2zM25.5 231.3H29.2V235H25.5zM21.8 235H25.5V238.7H21.8zM21.8 238.7H25.5V242.4H21.8zM21.8 242.4H25.5V246H21.8zM25.5 242.4H29.2V246H25.5zM29.2 242.4H32.9V246H29.2zM32.9 242.4H36.6V246H32.9zM36.6 242.4H40.3V246H36.6zM62.5 213H66.2V246H62.5zM66.2 216.6H69.9V242.4H66.2zM69.9 220.3H73.6V238.7H69.9zM73.6 224H77.3V235H73.6zM77.3 227.7H81V231.3H77.3zM47.7 227.7H62.5V231.3H47.7zM47.7 231.3H51.4V257H47.7zM32.9 257H66.2V260.7H32.9zM36.6 264.4H62.5V268.1H36.6zM44 271.7H55.1V275.4H44z"/>
<path fill="#ff0080" shape-rendering="crispEdges" d="M32.9 481.6H36.6V485.3H32.9zM36.6 481.6H40.3V485.3H36.6zM32.9 485.3H36.6V488.9H32.9zM36.6 485.3H40.3V488.9H36.6zM29.2 488.9H32.9V492.6H29.2zM36.6 488.9H40.3V492.6H36.6zM29.2 492.6H32.9V496.3H29.2zM36.6 492.6H40.3V496.3H36.6zM25.5 496.3H29.2V500H25.5zM36.6 496.3H40.3V500H36.6zM25.5 500H29.2V503.6H25.5zM36.6 500H40.3V503.6H36.6zM21.8 503.6H25.5V507.3H21.8zM25.5 503.6H29.2V507.3H25.5zM29.2 503.6H32.9V507.3H29.2zM32.9 503.6H36.6V507.3H32.9zM36.6 503.6H40.3V507.3H36.6zM40.3 503.6H44V507.3H40.3zM36.6 507.3H40.3V511H36.6zM36.6 511H40.3V514.7H36.6zM36.6 514.7H40.3V518.3H36.6zM62.5 485.3H66.2V518.3H62.5zM66.2 488.9H69.9V514.7H66.2zM69.9 492.6H73.6V511H69.9zM73.6 496.3H77.3V507.3H73.6zM77.3 500H81V503.6H77.3zM47.7 500H62.5V503.6H47.7zM47.7 503.6H51.4V529.3H47.7zM32.9 529.3H66.2V533H32.9zM36.6 536.7H62.5V540.4H36.6zM44 544H55.1V547.7H44z"/>
<path fill="#5577ff" shape-rendering="crispEdges" d="M25.5 779.2H29.2V782.9H25.5zM29.2 779.2H32.9V782.9H29.2zM32.9 779.2H36.6V782.9H32.9zM21.8 782.9H25.5V786.5H21.8zM36.6 782.9H40.3V786.5H36.6zM21.8 786.5H25.5V790.2H21.8zM36.6 786.5H40.3V790.2H36.6zM36.6 790.2H40.3V793.9H36.6zM29.2 793.9H32.9V797.6H29.2zM32.9 793.9H36.6V797.6H32.9zM36.6 797.6H40.3V801.2H36.6zM36.6 801.2H40.3V804.9H36.6zM21.8 804.9H25.5V808.6H21.8zM36.6 804.9H40.3V808.6H36.6zM21.8 808.6H25.5V812.3H21.8zM36.6 808.6H40.3V812.3H36.6zM25.5 812.3H29.2V815.9H25.5zM29.2 812.3H32.9V815.9H29.2zM32.9 812.3H36.6V815.9H32.9zM62.5 782.9H66.2V815.9H62.5zM66.2 786.5H69.9V812.3H66.2zM69.9 790.2H73.6V808.6H69.9zM73.6 793.9H77.3V804.9H73.6zM77.3 797.6H81V801.2H77.3zM47.7 797.6H62.5V801.2H47.7zM47.7 801.2H51.4V826.9H47.7zM32.9 826.9H66.2V830.6H32.9zM36.6 834.3H62.5V838H36.6zM44 841.6H55.1V845.3H44z"/>
<path fill="#ff9900" shape-rendering="crispEdges" d="M32.9 1470.1H36.6V1473.8H32.9zM29.2 1473.8H32.9V1477.4H29.2zM32.9 1473.8H36.6V1477.4H32.9zM25.5 1477.4H29.2V1481.1H25.5zM29.2 1477.4H32.9V1481.1H29.2zM32.9 1477.4H36.6V1481.1H32.9zM32.9 1481.1H36.6V1484.8H32.9zM32.9 1484.8H36.6V1488.5H32.9zM32.9 1488.5H36.6V1492H32.9zM62.5 1473.8H66.2V1492H62.5zM66.2 1477.4H69.9V1492H66.2zM69.9 1481.1H73.6V1492H69.9zM73.6 1484.8H77.3V1492H73.6zM77.3 1488.5H81V1492H77.3zM47.7 1488.5H62.5V1492H47.7z"/>
<path fill="#ff8800" shape-rendering="crispEdges" d="M2411 29H2433.5V32.8H2411zM2414.9 32.8H2433.5V36.5H2414.9zM2418.5 36.5H2433.5V40.2H2418.5zM2422.2 40.2H2433.5V44H2422.2zM2426 44H2433.5V47.8H2426zM2429.6 47.8H2433.5V51.5H2429.6z"/>
<rect x="636" y="194.8" width="131.8" height="101.2" fill="#fff"/>
<rect x="660" y="436.1" width="132" height="100.7" fill="#fff"/>
<rect x="608" y="710" width="283" height="100.9" fill="#fff"/>
<rect x="1387.8" y="389.2" width="240.3" height="94.3" fill="#fff"/>
<rect x="850" y="1005.8" width="200" height="77.3" fill="#fff"/>
<rect x="333" y="1249.3" width="225.2" height="101.3" fill="#fff"/>
<rect x="2124.7" y="1248.7" width="224.3" height="101.2" fill="#fff"/>
<rect x="400" y="1358.7" width="1660" height="134.3" fill="#fff"/>
<rect x="557.6" y="1249.3" width="1" height="101" fill="#d8d8d8"/>
<path d="M1290 1236.6H1410" stroke="#000" stroke-width="2.6" fill="none"/>
<path d="M1263 1236.6L1309 1214Q1301.5 1225 1303.5 1236.6Q1301.5 1248 1309 1259.2z" fill="#000"/>
<path d="M1434.4 1236.6L1392.3 1214Q1398.7 1225 1396.7 1236.6Q1398.7 1248 1392.3 1259.2z" fill="#000"/>
<rect x="1235.7" y="1250" width="224.9" height="100.4" fill="#fff"/>
<text x="669.4" y="271.7" font-size="83" class="i">i</text>
<text x="692.5" y="283.3" font-size="55">t1</text>
<text x="693.4" y="511.9" font-size="83" class="i">i</text>
<text x="717" y="523.1" font-size="55">t2</text>
<text x="656.1" y="786.2" font-size="83" class="i">i</text>
<text x="679.2" y="798" font-size="55">t1</text>
<text x="723.5" y="788.8" font-size="91" stroke="#fff" stroke-width="2.4">+</text>
<text x="777" y="786.2" font-size="83" class="i">i</text>
<text x="800.6" y="798" font-size="55">t2</text>
<text x="1432.2" y="461.5" font-size="83">fault</text>
<text x="904.7" y="1070.6" font-size="84" class="i">u</text>
<text x="945.7" y="1082.5" font-size="55">o</text>
<text x="373.2" y="1325.3" font-size="83">50V</text>
<text x="2164.7" y="1325.3" font-size="83">50V</text>
<text x="1261" y="1324.9" font-size="82">18ms</text>
<text x="588.7" y="1451" font-size="84" class="i">u</text>
<text x="629.6" y="1461.3" font-size="47">o</text>
<text x="654.7" y="1450.6" font-size="75">(25V/div),</text>
<text x="986.4" y="1450.6" font-size="80" class="i">i</text>
<text x="1008.4" y="1461.8" font-size="48">t1</text>
<text x="1045.1" y="1450.6" font-size="62">,</text>
<text x="1086.1" y="1450.6" font-size="70" class="i">i</text>
<text x="1107.8" y="1461.8" font-size="48">t2</text>
<text x="1154.7" y="1450.6" font-size="75">(</text>
<text x="1183" y="1450.6" font-size="74.5">11A/div),</text>
<text x="1487.9" y="1450.6" font-size="75">time(20ms/div)</text>
<path d="M637.7 224.2L568.9 256.2" stroke="#000" stroke-width="2.3" fill="none"/>
<path d="M506.2 285.4L558.8 235L579 277.5z" fill="#000"/>
<path d="M660.7 483.3L592.2 515" stroke="#000" stroke-width="2.3" fill="none"/>
<path d="M529.2 544.3L582.7 494.3L601.7 535.8z" fill="#000"/>
<path d="M603.5 752.5L535.1 784.1" stroke="#000" stroke-width="2.3" fill="none"/>
<path d="M472.3 813.7L525.5 763.3L544.7 805z" fill="#000"/>
<path d="M1386.8 444.1L1314.8 472" stroke="#000" stroke-width="2.3" fill="none"/>
<path d="M1271 488.2L1305.6 450.4L1324.1 493.7z" fill="#000"/>
<path d="M843.7 1053.8L755 1105.3" stroke="#000" stroke-width="2.3" fill="none"/>
<path d="M694.9 1140.6L743.2 1085.2L766.9 1125.5z" fill="#000"/>
<path d="M323.6 1160V1465" stroke="#000" stroke-width="7" fill="none"/>
<path d="M323.6 1131L351.4 1185.5Q335.6 1176 323.6 1178.5Q311.6 1176 295.8 1185.5z" fill="#000"/>
<path d="M323.6 1493L351.4 1439.5Q335.6 1449 323.6 1446.5Q311.6 1449 295.8 1439.5z" fill="#000"/>
<path d="M2113.6 1160V1465" stroke="#000" stroke-width="7" fill="none"/>
<path d="M2113.6 1131L2141.4 1185.5Q2125.6 1176 2113.6 1178.5Q2101.6 1176 2085.8 1185.5z" fill="#000"/>
<path d="M2113.6 1493L2141.4 1439.5Q2125.6 1449 2113.6 1446.5Q2101.6 1449 2085.8 1439.5z" fill="#000"/>
<path d="M22 27.4H2437M2435.2 25.6V1495.7M22 1493.8H2437M83 27.4V1493.8" stroke="#000" stroke-width="3.7" fill="none" shape-rendering="crispEdges"/>
<path d="M1259.5 1014.5V1323.3M1438 1014.5V1323.3" stroke="#ff0000" stroke-width="7.2" stroke-linecap="round" fill="none"/>
</svg></body></html>
